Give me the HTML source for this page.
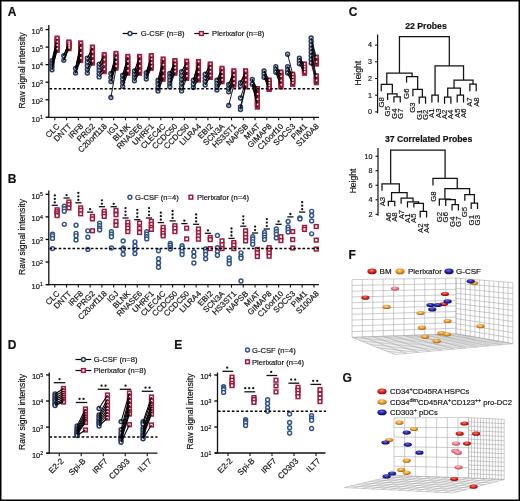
<!DOCTYPE html>
<html><head><meta charset="utf-8"><style>
html,body{margin:0;padding:0;background:#fff;width:520px;height:501px;overflow:hidden}
svg text{font-family:"Liberation Sans", sans-serif;stroke:#111;stroke-width:0.18px;paint-order:stroke}
</style></head><body>
<svg width="520" height="501" viewBox="0 0 520 501" style="display:block;will-change:transform;filter:blur(0.3px)" font-family='"Liberation Sans", sans-serif'><defs><radialGradient id="g_red" cx="0.45" cy="0.35" r="0.7"><stop offset="0" stop-color="#ff7a6a"/><stop offset="0.55" stop-color="#cc1c16"/><stop offset="1" stop-color="#7a0806"/></radialGradient><radialGradient id="g_org" cx="0.45" cy="0.35" r="0.7"><stop offset="0" stop-color="#ffd88a"/><stop offset="0.55" stop-color="#e49422"/><stop offset="1" stop-color="#8a5008"/></radialGradient><radialGradient id="g_blu" cx="0.45" cy="0.35" r="0.7"><stop offset="0" stop-color="#6a6ad8"/><stop offset="0.55" stop-color="#1e1e9a"/><stop offset="1" stop-color="#08084a"/></radialGradient><radialGradient id="g_pnk" cx="0.45" cy="0.35" r="0.7"><stop offset="0" stop-color="#ffc0c8"/><stop offset="0.55" stop-color="#e07080"/><stop offset="1" stop-color="#a03848"/></radialGradient></defs><rect x="0" y="0" width="520" height="501" fill="#fff"/><text x="7.70" y="16.20" font-size="12" text-anchor="start" font-weight="bold" fill="#111">A</text><text x="24.50" y="70.50" font-size="8.6" text-anchor="middle" fill="#111" transform="rotate(-90 24.50 70.50)">Raw signal intensity</text><circle cx="52.00" cy="60.67" r="1.95" fill="#cfd7e5" stroke="#263a60" stroke-width="1.45"/><circle cx="52.00" cy="63.72" r="1.95" fill="#cfd7e5" stroke="#263a60" stroke-width="1.45"/><circle cx="52.00" cy="66.77" r="1.95" fill="#cfd7e5" stroke="#263a60" stroke-width="1.45"/><circle cx="52.00" cy="69.83" r="1.95" fill="#cfd7e5" stroke="#263a60" stroke-width="1.45"/><rect x="55.25" y="36.25" width="3.70" height="3.70" fill="#a01a3c" stroke="#a01a3c" stroke-width="1.5"/><rect x="55.25" y="38.01" width="3.70" height="3.70" fill="#a01a3c" stroke="#a01a3c" stroke-width="1.5"/><rect x="55.25" y="39.76" width="3.70" height="3.70" fill="#a01a3c" stroke="#a01a3c" stroke-width="1.5"/><rect x="55.25" y="41.52" width="3.70" height="3.70" fill="#a01a3c" stroke="#a01a3c" stroke-width="1.5"/><rect x="55.25" y="43.28" width="3.70" height="3.70" fill="#a01a3c" stroke="#a01a3c" stroke-width="1.5"/><rect x="55.25" y="45.04" width="3.70" height="3.70" fill="#a01a3c" stroke="#a01a3c" stroke-width="1.5"/><rect x="55.25" y="46.79" width="3.70" height="3.70" fill="#a01a3c" stroke="#a01a3c" stroke-width="1.5"/><rect x="55.25" y="48.55" width="3.70" height="3.70" fill="#a01a3c" stroke="#a01a3c" stroke-width="1.5"/><line x1="52.00" y1="60.67" x2="57.10" y2="38.10" stroke="#000" stroke-width="0.9"/><line x1="52.00" y1="60.67" x2="57.10" y2="39.86" stroke="#000" stroke-width="0.9"/><line x1="52.00" y1="63.72" x2="57.10" y2="41.61" stroke="#000" stroke-width="0.9"/><line x1="52.00" y1="63.72" x2="57.10" y2="43.37" stroke="#000" stroke-width="0.9"/><line x1="52.00" y1="66.77" x2="57.10" y2="45.13" stroke="#000" stroke-width="0.9"/><line x1="52.00" y1="66.77" x2="57.10" y2="46.89" stroke="#000" stroke-width="0.9"/><line x1="52.00" y1="69.83" x2="57.10" y2="48.64" stroke="#000" stroke-width="0.9"/><line x1="52.00" y1="69.83" x2="57.10" y2="50.40" stroke="#000" stroke-width="0.9"/><rect x="56.50" y="37.20" width="1.6" height="1.8" fill="#f6e2e6"/><rect x="56.50" y="40.71" width="1.6" height="1.8" fill="#f6e2e6"/><rect x="56.50" y="44.23" width="1.6" height="1.8" fill="#f6e2e6"/><rect x="56.50" y="47.74" width="1.6" height="1.8" fill="#f6e2e6"/><circle cx="63.78" cy="55.67" r="1.95" fill="#cfd7e5" stroke="#263a60" stroke-width="1.45"/><circle cx="63.78" cy="60.32" r="1.95" fill="#cfd7e5" stroke="#263a60" stroke-width="1.45"/><rect x="67.03" y="40.15" width="3.70" height="3.70" fill="#a01a3c" stroke="#a01a3c" stroke-width="1.5"/><rect x="67.03" y="41.11" width="3.70" height="3.70" fill="#a01a3c" stroke="#a01a3c" stroke-width="1.5"/><rect x="67.03" y="42.06" width="3.70" height="3.70" fill="#a01a3c" stroke="#a01a3c" stroke-width="1.5"/><rect x="67.03" y="43.02" width="3.70" height="3.70" fill="#a01a3c" stroke="#a01a3c" stroke-width="1.5"/><rect x="67.03" y="43.98" width="3.70" height="3.70" fill="#a01a3c" stroke="#a01a3c" stroke-width="1.5"/><rect x="67.03" y="44.94" width="3.70" height="3.70" fill="#a01a3c" stroke="#a01a3c" stroke-width="1.5"/><rect x="67.03" y="45.89" width="3.70" height="3.70" fill="#a01a3c" stroke="#a01a3c" stroke-width="1.5"/><rect x="67.03" y="46.85" width="3.70" height="3.70" fill="#a01a3c" stroke="#a01a3c" stroke-width="1.5"/><line x1="63.78" y1="55.67" x2="68.88" y2="42.00" stroke="#000" stroke-width="0.9"/><line x1="63.78" y1="55.67" x2="68.88" y2="42.96" stroke="#000" stroke-width="0.9"/><line x1="63.78" y1="55.67" x2="68.88" y2="43.91" stroke="#000" stroke-width="0.9"/><line x1="63.78" y1="55.67" x2="68.88" y2="44.87" stroke="#000" stroke-width="0.9"/><line x1="63.78" y1="60.32" x2="68.88" y2="45.83" stroke="#000" stroke-width="0.9"/><line x1="63.78" y1="60.32" x2="68.88" y2="46.79" stroke="#000" stroke-width="0.9"/><line x1="63.78" y1="60.32" x2="68.88" y2="47.74" stroke="#000" stroke-width="0.9"/><line x1="63.78" y1="60.32" x2="68.88" y2="48.70" stroke="#000" stroke-width="0.9"/><rect x="68.28" y="41.10" width="1.6" height="1.8" fill="#f6e2e6"/><rect x="68.28" y="43.01" width="1.6" height="1.8" fill="#f6e2e6"/><rect x="68.28" y="44.93" width="1.6" height="1.8" fill="#f6e2e6"/><rect x="68.28" y="46.84" width="1.6" height="1.8" fill="#f6e2e6"/><circle cx="75.56" cy="68.38" r="1.95" fill="#cfd7e5" stroke="#263a60" stroke-width="1.45"/><circle cx="75.56" cy="73.12" r="1.95" fill="#cfd7e5" stroke="#263a60" stroke-width="1.45"/><rect x="78.81" y="41.05" width="3.70" height="3.70" fill="#a01a3c" stroke="#a01a3c" stroke-width="1.5"/><rect x="78.81" y="43.56" width="3.70" height="3.70" fill="#a01a3c" stroke="#a01a3c" stroke-width="1.5"/><rect x="78.81" y="46.08" width="3.70" height="3.70" fill="#a01a3c" stroke="#a01a3c" stroke-width="1.5"/><rect x="78.81" y="48.59" width="3.70" height="3.70" fill="#a01a3c" stroke="#a01a3c" stroke-width="1.5"/><rect x="78.81" y="51.11" width="3.70" height="3.70" fill="#a01a3c" stroke="#a01a3c" stroke-width="1.5"/><rect x="78.81" y="53.62" width="3.70" height="3.70" fill="#a01a3c" stroke="#a01a3c" stroke-width="1.5"/><rect x="78.81" y="56.14" width="3.70" height="3.70" fill="#a01a3c" stroke="#a01a3c" stroke-width="1.5"/><rect x="78.81" y="58.65" width="3.70" height="3.70" fill="#a01a3c" stroke="#a01a3c" stroke-width="1.5"/><line x1="75.56" y1="68.38" x2="80.66" y2="42.90" stroke="#000" stroke-width="0.9"/><line x1="75.56" y1="68.38" x2="80.66" y2="45.41" stroke="#000" stroke-width="0.9"/><line x1="75.56" y1="68.38" x2="80.66" y2="47.93" stroke="#000" stroke-width="0.9"/><line x1="75.56" y1="68.38" x2="80.66" y2="50.44" stroke="#000" stroke-width="0.9"/><line x1="75.56" y1="73.12" x2="80.66" y2="52.96" stroke="#000" stroke-width="0.9"/><line x1="75.56" y1="73.12" x2="80.66" y2="55.47" stroke="#000" stroke-width="0.9"/><line x1="75.56" y1="73.12" x2="80.66" y2="57.99" stroke="#000" stroke-width="0.9"/><line x1="75.56" y1="73.12" x2="80.66" y2="60.50" stroke="#000" stroke-width="0.9"/><rect x="80.06" y="42.00" width="1.6" height="1.8" fill="#f6e2e6"/><rect x="80.06" y="47.03" width="1.6" height="1.8" fill="#f6e2e6"/><rect x="80.06" y="52.06" width="1.6" height="1.8" fill="#f6e2e6"/><rect x="80.06" y="57.09" width="1.6" height="1.8" fill="#f6e2e6"/><circle cx="87.34" cy="58.17" r="1.95" fill="#cfd7e5" stroke="#263a60" stroke-width="1.45"/><circle cx="87.34" cy="61.91" r="1.95" fill="#cfd7e5" stroke="#263a60" stroke-width="1.45"/><circle cx="87.34" cy="65.65" r="1.95" fill="#cfd7e5" stroke="#263a60" stroke-width="1.45"/><circle cx="87.34" cy="69.39" r="1.95" fill="#cfd7e5" stroke="#263a60" stroke-width="1.45"/><circle cx="87.34" cy="73.12" r="1.95" fill="#cfd7e5" stroke="#263a60" stroke-width="1.45"/><rect x="90.59" y="45.25" width="3.70" height="3.70" fill="#a01a3c" stroke="#a01a3c" stroke-width="1.5"/><rect x="90.59" y="47.54" width="3.70" height="3.70" fill="#a01a3c" stroke="#a01a3c" stroke-width="1.5"/><rect x="90.59" y="49.82" width="3.70" height="3.70" fill="#a01a3c" stroke="#a01a3c" stroke-width="1.5"/><rect x="90.59" y="52.11" width="3.70" height="3.70" fill="#a01a3c" stroke="#a01a3c" stroke-width="1.5"/><rect x="90.59" y="54.39" width="3.70" height="3.70" fill="#a01a3c" stroke="#a01a3c" stroke-width="1.5"/><rect x="90.59" y="56.68" width="3.70" height="3.70" fill="#a01a3c" stroke="#a01a3c" stroke-width="1.5"/><rect x="90.59" y="58.96" width="3.70" height="3.70" fill="#a01a3c" stroke="#a01a3c" stroke-width="1.5"/><rect x="90.59" y="61.25" width="3.70" height="3.70" fill="#a01a3c" stroke="#a01a3c" stroke-width="1.5"/><line x1="87.34" y1="58.17" x2="92.44" y2="47.10" stroke="#000" stroke-width="0.9"/><line x1="87.34" y1="58.17" x2="92.44" y2="49.39" stroke="#000" stroke-width="0.9"/><line x1="87.34" y1="61.91" x2="92.44" y2="51.67" stroke="#000" stroke-width="0.9"/><line x1="87.34" y1="61.91" x2="92.44" y2="53.96" stroke="#000" stroke-width="0.9"/><line x1="87.34" y1="65.65" x2="92.44" y2="56.24" stroke="#000" stroke-width="0.9"/><line x1="87.34" y1="69.39" x2="92.44" y2="58.53" stroke="#000" stroke-width="0.9"/><line x1="87.34" y1="69.39" x2="92.44" y2="60.81" stroke="#000" stroke-width="0.9"/><line x1="87.34" y1="73.12" x2="92.44" y2="63.10" stroke="#000" stroke-width="0.9"/><rect x="91.84" y="46.20" width="1.6" height="1.8" fill="#f6e2e6"/><rect x="91.84" y="50.77" width="1.6" height="1.8" fill="#f6e2e6"/><rect x="91.84" y="55.34" width="1.6" height="1.8" fill="#f6e2e6"/><rect x="91.84" y="59.91" width="1.6" height="1.8" fill="#f6e2e6"/><circle cx="99.12" cy="64.08" r="1.95" fill="#cfd7e5" stroke="#263a60" stroke-width="1.45"/><circle cx="99.12" cy="67.29" r="1.95" fill="#cfd7e5" stroke="#263a60" stroke-width="1.45"/><circle cx="99.12" cy="70.50" r="1.95" fill="#cfd7e5" stroke="#263a60" stroke-width="1.45"/><circle cx="99.12" cy="73.71" r="1.95" fill="#cfd7e5" stroke="#263a60" stroke-width="1.45"/><circle cx="99.12" cy="76.92" r="1.95" fill="#cfd7e5" stroke="#263a60" stroke-width="1.45"/><rect x="102.37" y="52.85" width="3.70" height="3.70" fill="#a01a3c" stroke="#a01a3c" stroke-width="1.5"/><rect x="102.37" y="55.26" width="3.70" height="3.70" fill="#a01a3c" stroke="#a01a3c" stroke-width="1.5"/><rect x="102.37" y="57.68" width="3.70" height="3.70" fill="#a01a3c" stroke="#a01a3c" stroke-width="1.5"/><rect x="102.37" y="60.09" width="3.70" height="3.70" fill="#a01a3c" stroke="#a01a3c" stroke-width="1.5"/><rect x="102.37" y="62.51" width="3.70" height="3.70" fill="#a01a3c" stroke="#a01a3c" stroke-width="1.5"/><rect x="102.37" y="64.92" width="3.70" height="3.70" fill="#a01a3c" stroke="#a01a3c" stroke-width="1.5"/><rect x="102.37" y="67.34" width="3.70" height="3.70" fill="#a01a3c" stroke="#a01a3c" stroke-width="1.5"/><rect x="102.37" y="69.75" width="3.70" height="3.70" fill="#a01a3c" stroke="#a01a3c" stroke-width="1.5"/><line x1="99.12" y1="64.08" x2="104.22" y2="54.70" stroke="#000" stroke-width="0.9"/><line x1="99.12" y1="64.08" x2="104.22" y2="57.11" stroke="#000" stroke-width="0.9"/><line x1="99.12" y1="67.29" x2="104.22" y2="59.53" stroke="#000" stroke-width="0.9"/><line x1="99.12" y1="67.29" x2="104.22" y2="61.94" stroke="#000" stroke-width="0.9"/><line x1="99.12" y1="70.50" x2="104.22" y2="64.36" stroke="#000" stroke-width="0.9"/><line x1="99.12" y1="73.71" x2="104.22" y2="66.77" stroke="#000" stroke-width="0.9"/><line x1="99.12" y1="73.71" x2="104.22" y2="69.19" stroke="#000" stroke-width="0.9"/><line x1="99.12" y1="76.92" x2="104.22" y2="71.60" stroke="#000" stroke-width="0.9"/><rect x="103.62" y="53.80" width="1.6" height="1.8" fill="#f6e2e6"/><rect x="103.62" y="58.63" width="1.6" height="1.8" fill="#f6e2e6"/><rect x="103.62" y="63.46" width="1.6" height="1.8" fill="#f6e2e6"/><rect x="103.62" y="68.29" width="1.6" height="1.8" fill="#f6e2e6"/><circle cx="110.90" cy="73.47" r="1.95" fill="#cfd7e5" stroke="#263a60" stroke-width="1.45"/><circle cx="110.90" cy="77.55" r="1.95" fill="#cfd7e5" stroke="#263a60" stroke-width="1.45"/><circle cx="110.90" cy="81.62" r="1.95" fill="#cfd7e5" stroke="#263a60" stroke-width="1.45"/><circle cx="110.90" cy="97.50" r="1.95" fill="#cfd7e5" stroke="#263a60" stroke-width="1.45"/><rect x="114.15" y="51.55" width="3.70" height="3.70" fill="#a01a3c" stroke="#a01a3c" stroke-width="1.5"/><rect x="114.15" y="53.66" width="3.70" height="3.70" fill="#a01a3c" stroke="#a01a3c" stroke-width="1.5"/><rect x="114.15" y="55.78" width="3.70" height="3.70" fill="#a01a3c" stroke="#a01a3c" stroke-width="1.5"/><rect x="114.15" y="57.89" width="3.70" height="3.70" fill="#a01a3c" stroke="#a01a3c" stroke-width="1.5"/><rect x="114.15" y="60.01" width="3.70" height="3.70" fill="#a01a3c" stroke="#a01a3c" stroke-width="1.5"/><rect x="114.15" y="62.12" width="3.70" height="3.70" fill="#a01a3c" stroke="#a01a3c" stroke-width="1.5"/><rect x="114.15" y="64.24" width="3.70" height="3.70" fill="#a01a3c" stroke="#a01a3c" stroke-width="1.5"/><rect x="114.15" y="66.35" width="3.70" height="3.70" fill="#a01a3c" stroke="#a01a3c" stroke-width="1.5"/><line x1="110.90" y1="73.47" x2="116.00" y2="53.40" stroke="#000" stroke-width="0.9"/><line x1="110.90" y1="73.47" x2="116.00" y2="55.51" stroke="#000" stroke-width="0.9"/><line x1="110.90" y1="73.47" x2="116.00" y2="57.63" stroke="#000" stroke-width="0.9"/><line x1="110.90" y1="77.55" x2="116.00" y2="59.74" stroke="#000" stroke-width="0.9"/><line x1="110.90" y1="77.55" x2="116.00" y2="61.86" stroke="#000" stroke-width="0.9"/><line x1="110.90" y1="81.62" x2="116.00" y2="63.97" stroke="#000" stroke-width="0.9"/><line x1="110.90" y1="81.62" x2="116.00" y2="66.09" stroke="#000" stroke-width="0.9"/><line x1="110.90" y1="97.50" x2="116.00" y2="68.20" stroke="#000" stroke-width="0.9"/><rect x="115.40" y="52.50" width="1.6" height="1.8" fill="#f6e2e6"/><rect x="115.40" y="56.73" width="1.6" height="1.8" fill="#f6e2e6"/><rect x="115.40" y="60.96" width="1.6" height="1.8" fill="#f6e2e6"/><rect x="115.40" y="65.19" width="1.6" height="1.8" fill="#f6e2e6"/><circle cx="122.68" cy="75.17" r="1.95" fill="#cfd7e5" stroke="#263a60" stroke-width="1.45"/><circle cx="122.68" cy="78.89" r="1.95" fill="#cfd7e5" stroke="#263a60" stroke-width="1.45"/><circle cx="122.68" cy="82.61" r="1.95" fill="#cfd7e5" stroke="#263a60" stroke-width="1.45"/><circle cx="122.68" cy="86.33" r="1.95" fill="#cfd7e5" stroke="#263a60" stroke-width="1.45"/><rect x="125.93" y="54.55" width="3.70" height="3.70" fill="#a01a3c" stroke="#a01a3c" stroke-width="1.5"/><rect x="125.93" y="56.95" width="3.70" height="3.70" fill="#a01a3c" stroke="#a01a3c" stroke-width="1.5"/><rect x="125.93" y="59.35" width="3.70" height="3.70" fill="#a01a3c" stroke="#a01a3c" stroke-width="1.5"/><rect x="125.93" y="61.75" width="3.70" height="3.70" fill="#a01a3c" stroke="#a01a3c" stroke-width="1.5"/><rect x="125.93" y="64.15" width="3.70" height="3.70" fill="#a01a3c" stroke="#a01a3c" stroke-width="1.5"/><rect x="125.93" y="66.55" width="3.70" height="3.70" fill="#a01a3c" stroke="#a01a3c" stroke-width="1.5"/><rect x="125.93" y="68.95" width="3.70" height="3.70" fill="#a01a3c" stroke="#a01a3c" stroke-width="1.5"/><rect x="125.93" y="71.35" width="3.70" height="3.70" fill="#a01a3c" stroke="#a01a3c" stroke-width="1.5"/><line x1="122.68" y1="75.17" x2="127.78" y2="56.40" stroke="#000" stroke-width="0.9"/><line x1="122.68" y1="75.17" x2="127.78" y2="58.80" stroke="#000" stroke-width="0.9"/><line x1="122.68" y1="78.89" x2="127.78" y2="61.20" stroke="#000" stroke-width="0.9"/><line x1="122.68" y1="78.89" x2="127.78" y2="63.60" stroke="#000" stroke-width="0.9"/><line x1="122.68" y1="82.61" x2="127.78" y2="66.00" stroke="#000" stroke-width="0.9"/><line x1="122.68" y1="82.61" x2="127.78" y2="68.40" stroke="#000" stroke-width="0.9"/><line x1="122.68" y1="86.33" x2="127.78" y2="70.80" stroke="#000" stroke-width="0.9"/><line x1="122.68" y1="86.33" x2="127.78" y2="73.20" stroke="#000" stroke-width="0.9"/><rect x="127.18" y="55.50" width="1.6" height="1.8" fill="#f6e2e6"/><rect x="127.18" y="60.30" width="1.6" height="1.8" fill="#f6e2e6"/><rect x="127.18" y="65.10" width="1.6" height="1.8" fill="#f6e2e6"/><rect x="127.18" y="69.90" width="1.6" height="1.8" fill="#f6e2e6"/><circle cx="134.46" cy="70.88" r="1.95" fill="#cfd7e5" stroke="#263a60" stroke-width="1.45"/><circle cx="134.46" cy="74.19" r="1.95" fill="#cfd7e5" stroke="#263a60" stroke-width="1.45"/><circle cx="134.46" cy="77.51" r="1.95" fill="#cfd7e5" stroke="#263a60" stroke-width="1.45"/><circle cx="134.46" cy="80.83" r="1.95" fill="#cfd7e5" stroke="#263a60" stroke-width="1.45"/><rect x="137.71" y="54.55" width="3.70" height="3.70" fill="#a01a3c" stroke="#a01a3c" stroke-width="1.5"/><rect x="137.71" y="56.95" width="3.70" height="3.70" fill="#a01a3c" stroke="#a01a3c" stroke-width="1.5"/><rect x="137.71" y="59.35" width="3.70" height="3.70" fill="#a01a3c" stroke="#a01a3c" stroke-width="1.5"/><rect x="137.71" y="61.75" width="3.70" height="3.70" fill="#a01a3c" stroke="#a01a3c" stroke-width="1.5"/><rect x="137.71" y="64.15" width="3.70" height="3.70" fill="#a01a3c" stroke="#a01a3c" stroke-width="1.5"/><rect x="137.71" y="66.55" width="3.70" height="3.70" fill="#a01a3c" stroke="#a01a3c" stroke-width="1.5"/><rect x="137.71" y="68.95" width="3.70" height="3.70" fill="#a01a3c" stroke="#a01a3c" stroke-width="1.5"/><rect x="137.71" y="71.35" width="3.70" height="3.70" fill="#a01a3c" stroke="#a01a3c" stroke-width="1.5"/><line x1="134.46" y1="70.88" x2="139.56" y2="56.40" stroke="#000" stroke-width="0.9"/><line x1="134.46" y1="70.88" x2="139.56" y2="58.80" stroke="#000" stroke-width="0.9"/><line x1="134.46" y1="74.19" x2="139.56" y2="61.20" stroke="#000" stroke-width="0.9"/><line x1="134.46" y1="74.19" x2="139.56" y2="63.60" stroke="#000" stroke-width="0.9"/><line x1="134.46" y1="77.51" x2="139.56" y2="66.00" stroke="#000" stroke-width="0.9"/><line x1="134.46" y1="77.51" x2="139.56" y2="68.40" stroke="#000" stroke-width="0.9"/><line x1="134.46" y1="80.83" x2="139.56" y2="70.80" stroke="#000" stroke-width="0.9"/><line x1="134.46" y1="80.83" x2="139.56" y2="73.20" stroke="#000" stroke-width="0.9"/><rect x="138.96" y="55.50" width="1.6" height="1.8" fill="#f6e2e6"/><rect x="138.96" y="60.30" width="1.6" height="1.8" fill="#f6e2e6"/><rect x="138.96" y="65.10" width="1.6" height="1.8" fill="#f6e2e6"/><rect x="138.96" y="69.90" width="1.6" height="1.8" fill="#f6e2e6"/><circle cx="146.24" cy="72.67" r="1.95" fill="#cfd7e5" stroke="#263a60" stroke-width="1.45"/><circle cx="146.24" cy="75.90" r="1.95" fill="#cfd7e5" stroke="#263a60" stroke-width="1.45"/><circle cx="146.24" cy="79.12" r="1.95" fill="#cfd7e5" stroke="#263a60" stroke-width="1.45"/><rect x="149.49" y="53.75" width="3.70" height="3.70" fill="#a01a3c" stroke="#a01a3c" stroke-width="1.5"/><rect x="149.49" y="55.55" width="3.70" height="3.70" fill="#a01a3c" stroke="#a01a3c" stroke-width="1.5"/><rect x="149.49" y="57.35" width="3.70" height="3.70" fill="#a01a3c" stroke="#a01a3c" stroke-width="1.5"/><rect x="149.49" y="59.15" width="3.70" height="3.70" fill="#a01a3c" stroke="#a01a3c" stroke-width="1.5"/><rect x="149.49" y="60.95" width="3.70" height="3.70" fill="#a01a3c" stroke="#a01a3c" stroke-width="1.5"/><rect x="149.49" y="62.75" width="3.70" height="3.70" fill="#a01a3c" stroke="#a01a3c" stroke-width="1.5"/><rect x="149.49" y="64.55" width="3.70" height="3.70" fill="#a01a3c" stroke="#a01a3c" stroke-width="1.5"/><rect x="149.49" y="66.35" width="3.70" height="3.70" fill="#a01a3c" stroke="#a01a3c" stroke-width="1.5"/><line x1="146.24" y1="72.67" x2="151.34" y2="55.60" stroke="#000" stroke-width="0.9"/><line x1="146.24" y1="72.67" x2="151.34" y2="57.40" stroke="#000" stroke-width="0.9"/><line x1="146.24" y1="72.67" x2="151.34" y2="59.20" stroke="#000" stroke-width="0.9"/><line x1="146.24" y1="75.90" x2="151.34" y2="61.00" stroke="#000" stroke-width="0.9"/><line x1="146.24" y1="75.90" x2="151.34" y2="62.80" stroke="#000" stroke-width="0.9"/><line x1="146.24" y1="75.90" x2="151.34" y2="64.60" stroke="#000" stroke-width="0.9"/><line x1="146.24" y1="79.12" x2="151.34" y2="66.40" stroke="#000" stroke-width="0.9"/><line x1="146.24" y1="79.12" x2="151.34" y2="68.20" stroke="#000" stroke-width="0.9"/><rect x="150.74" y="54.70" width="1.6" height="1.8" fill="#f6e2e6"/><rect x="150.74" y="58.30" width="1.6" height="1.8" fill="#f6e2e6"/><rect x="150.74" y="61.90" width="1.6" height="1.8" fill="#f6e2e6"/><rect x="150.74" y="65.50" width="1.6" height="1.8" fill="#f6e2e6"/><circle cx="158.02" cy="80.17" r="1.95" fill="#cfd7e5" stroke="#263a60" stroke-width="1.45"/><circle cx="158.02" cy="83.76" r="1.95" fill="#cfd7e5" stroke="#263a60" stroke-width="1.45"/><circle cx="158.02" cy="87.34" r="1.95" fill="#cfd7e5" stroke="#263a60" stroke-width="1.45"/><circle cx="158.02" cy="90.92" r="1.95" fill="#cfd7e5" stroke="#263a60" stroke-width="1.45"/><rect x="161.27" y="57.15" width="3.70" height="3.70" fill="#a01a3c" stroke="#a01a3c" stroke-width="1.5"/><rect x="161.27" y="60.04" width="3.70" height="3.70" fill="#a01a3c" stroke="#a01a3c" stroke-width="1.5"/><rect x="161.27" y="62.92" width="3.70" height="3.70" fill="#a01a3c" stroke="#a01a3c" stroke-width="1.5"/><rect x="161.27" y="65.81" width="3.70" height="3.70" fill="#a01a3c" stroke="#a01a3c" stroke-width="1.5"/><rect x="161.27" y="68.69" width="3.70" height="3.70" fill="#a01a3c" stroke="#a01a3c" stroke-width="1.5"/><rect x="161.27" y="71.58" width="3.70" height="3.70" fill="#a01a3c" stroke="#a01a3c" stroke-width="1.5"/><rect x="161.27" y="74.46" width="3.70" height="3.70" fill="#a01a3c" stroke="#a01a3c" stroke-width="1.5"/><rect x="161.27" y="77.35" width="3.70" height="3.70" fill="#a01a3c" stroke="#a01a3c" stroke-width="1.5"/><line x1="158.02" y1="80.17" x2="163.12" y2="59.00" stroke="#000" stroke-width="0.9"/><line x1="158.02" y1="80.17" x2="163.12" y2="61.89" stroke="#000" stroke-width="0.9"/><line x1="158.02" y1="83.76" x2="163.12" y2="64.77" stroke="#000" stroke-width="0.9"/><line x1="158.02" y1="83.76" x2="163.12" y2="67.66" stroke="#000" stroke-width="0.9"/><line x1="158.02" y1="87.34" x2="163.12" y2="70.54" stroke="#000" stroke-width="0.9"/><line x1="158.02" y1="87.34" x2="163.12" y2="73.43" stroke="#000" stroke-width="0.9"/><line x1="158.02" y1="90.92" x2="163.12" y2="76.31" stroke="#000" stroke-width="0.9"/><line x1="158.02" y1="90.92" x2="163.12" y2="79.20" stroke="#000" stroke-width="0.9"/><rect x="162.52" y="58.10" width="1.6" height="1.8" fill="#f6e2e6"/><rect x="162.52" y="63.87" width="1.6" height="1.8" fill="#f6e2e6"/><rect x="162.52" y="69.64" width="1.6" height="1.8" fill="#f6e2e6"/><rect x="162.52" y="75.41" width="1.6" height="1.8" fill="#f6e2e6"/><circle cx="169.80" cy="73.47" r="1.95" fill="#cfd7e5" stroke="#263a60" stroke-width="1.45"/><circle cx="169.80" cy="76.79" r="1.95" fill="#cfd7e5" stroke="#263a60" stroke-width="1.45"/><circle cx="169.80" cy="80.10" r="1.95" fill="#cfd7e5" stroke="#263a60" stroke-width="1.45"/><circle cx="169.80" cy="83.41" r="1.95" fill="#cfd7e5" stroke="#263a60" stroke-width="1.45"/><circle cx="169.80" cy="86.73" r="1.95" fill="#cfd7e5" stroke="#263a60" stroke-width="1.45"/><rect x="173.05" y="58.75" width="3.70" height="3.70" fill="#a01a3c" stroke="#a01a3c" stroke-width="1.5"/><rect x="173.05" y="60.55" width="3.70" height="3.70" fill="#a01a3c" stroke="#a01a3c" stroke-width="1.5"/><rect x="173.05" y="62.35" width="3.70" height="3.70" fill="#a01a3c" stroke="#a01a3c" stroke-width="1.5"/><rect x="173.05" y="64.15" width="3.70" height="3.70" fill="#a01a3c" stroke="#a01a3c" stroke-width="1.5"/><rect x="173.05" y="65.95" width="3.70" height="3.70" fill="#a01a3c" stroke="#a01a3c" stroke-width="1.5"/><rect x="173.05" y="67.75" width="3.70" height="3.70" fill="#a01a3c" stroke="#a01a3c" stroke-width="1.5"/><rect x="173.05" y="69.55" width="3.70" height="3.70" fill="#a01a3c" stroke="#a01a3c" stroke-width="1.5"/><rect x="173.05" y="71.35" width="3.70" height="3.70" fill="#a01a3c" stroke="#a01a3c" stroke-width="1.5"/><line x1="169.80" y1="73.47" x2="174.90" y2="60.60" stroke="#000" stroke-width="0.9"/><line x1="169.80" y1="73.47" x2="174.90" y2="62.40" stroke="#000" stroke-width="0.9"/><line x1="169.80" y1="76.79" x2="174.90" y2="64.20" stroke="#000" stroke-width="0.9"/><line x1="169.80" y1="76.79" x2="174.90" y2="66.00" stroke="#000" stroke-width="0.9"/><line x1="169.80" y1="80.10" x2="174.90" y2="67.80" stroke="#000" stroke-width="0.9"/><line x1="169.80" y1="83.41" x2="174.90" y2="69.60" stroke="#000" stroke-width="0.9"/><line x1="169.80" y1="83.41" x2="174.90" y2="71.40" stroke="#000" stroke-width="0.9"/><line x1="169.80" y1="86.73" x2="174.90" y2="73.20" stroke="#000" stroke-width="0.9"/><rect x="174.30" y="59.70" width="1.6" height="1.8" fill="#f6e2e6"/><rect x="174.30" y="63.30" width="1.6" height="1.8" fill="#f6e2e6"/><rect x="174.30" y="66.90" width="1.6" height="1.8" fill="#f6e2e6"/><rect x="174.30" y="70.50" width="1.6" height="1.8" fill="#f6e2e6"/><circle cx="181.58" cy="71.67" r="1.95" fill="#cfd7e5" stroke="#263a60" stroke-width="1.45"/><circle cx="181.58" cy="75.52" r="1.95" fill="#cfd7e5" stroke="#263a60" stroke-width="1.45"/><circle cx="181.58" cy="79.38" r="1.95" fill="#cfd7e5" stroke="#263a60" stroke-width="1.45"/><circle cx="181.58" cy="83.22" r="1.95" fill="#cfd7e5" stroke="#263a60" stroke-width="1.45"/><circle cx="181.58" cy="87.07" r="1.95" fill="#cfd7e5" stroke="#263a60" stroke-width="1.45"/><circle cx="181.58" cy="90.92" r="1.95" fill="#cfd7e5" stroke="#263a60" stroke-width="1.45"/><rect x="184.83" y="59.35" width="3.70" height="3.70" fill="#a01a3c" stroke="#a01a3c" stroke-width="1.5"/><rect x="184.83" y="61.81" width="3.70" height="3.70" fill="#a01a3c" stroke="#a01a3c" stroke-width="1.5"/><rect x="184.83" y="64.26" width="3.70" height="3.70" fill="#a01a3c" stroke="#a01a3c" stroke-width="1.5"/><rect x="184.83" y="66.72" width="3.70" height="3.70" fill="#a01a3c" stroke="#a01a3c" stroke-width="1.5"/><rect x="184.83" y="69.18" width="3.70" height="3.70" fill="#a01a3c" stroke="#a01a3c" stroke-width="1.5"/><rect x="184.83" y="71.64" width="3.70" height="3.70" fill="#a01a3c" stroke="#a01a3c" stroke-width="1.5"/><rect x="184.83" y="74.09" width="3.70" height="3.70" fill="#a01a3c" stroke="#a01a3c" stroke-width="1.5"/><rect x="184.83" y="76.55" width="3.70" height="3.70" fill="#a01a3c" stroke="#a01a3c" stroke-width="1.5"/><line x1="181.58" y1="71.67" x2="186.68" y2="61.20" stroke="#000" stroke-width="0.9"/><line x1="181.58" y1="71.67" x2="186.68" y2="63.66" stroke="#000" stroke-width="0.9"/><line x1="181.58" y1="75.52" x2="186.68" y2="66.11" stroke="#000" stroke-width="0.9"/><line x1="181.58" y1="79.38" x2="186.68" y2="68.57" stroke="#000" stroke-width="0.9"/><line x1="181.58" y1="83.22" x2="186.68" y2="71.03" stroke="#000" stroke-width="0.9"/><line x1="181.58" y1="83.22" x2="186.68" y2="73.49" stroke="#000" stroke-width="0.9"/><line x1="181.58" y1="87.07" x2="186.68" y2="75.94" stroke="#000" stroke-width="0.9"/><line x1="181.58" y1="90.92" x2="186.68" y2="78.40" stroke="#000" stroke-width="0.9"/><rect x="186.08" y="60.30" width="1.6" height="1.8" fill="#f6e2e6"/><rect x="186.08" y="65.21" width="1.6" height="1.8" fill="#f6e2e6"/><rect x="186.08" y="70.13" width="1.6" height="1.8" fill="#f6e2e6"/><rect x="186.08" y="75.04" width="1.6" height="1.8" fill="#f6e2e6"/><circle cx="193.36" cy="80.17" r="1.95" fill="#cfd7e5" stroke="#263a60" stroke-width="1.45"/><circle cx="193.36" cy="83.90" r="1.95" fill="#cfd7e5" stroke="#263a60" stroke-width="1.45"/><circle cx="193.36" cy="87.62" r="1.95" fill="#cfd7e5" stroke="#263a60" stroke-width="1.45"/><rect x="196.61" y="59.65" width="3.70" height="3.70" fill="#a01a3c" stroke="#a01a3c" stroke-width="1.5"/><rect x="196.61" y="62.29" width="3.70" height="3.70" fill="#a01a3c" stroke="#a01a3c" stroke-width="1.5"/><rect x="196.61" y="64.94" width="3.70" height="3.70" fill="#a01a3c" stroke="#a01a3c" stroke-width="1.5"/><rect x="196.61" y="67.58" width="3.70" height="3.70" fill="#a01a3c" stroke="#a01a3c" stroke-width="1.5"/><rect x="196.61" y="70.22" width="3.70" height="3.70" fill="#a01a3c" stroke="#a01a3c" stroke-width="1.5"/><rect x="196.61" y="72.86" width="3.70" height="3.70" fill="#a01a3c" stroke="#a01a3c" stroke-width="1.5"/><rect x="196.61" y="75.51" width="3.70" height="3.70" fill="#a01a3c" stroke="#a01a3c" stroke-width="1.5"/><rect x="196.61" y="78.15" width="3.70" height="3.70" fill="#a01a3c" stroke="#a01a3c" stroke-width="1.5"/><line x1="193.36" y1="80.17" x2="198.46" y2="61.50" stroke="#000" stroke-width="0.9"/><line x1="193.36" y1="80.17" x2="198.46" y2="64.14" stroke="#000" stroke-width="0.9"/><line x1="193.36" y1="80.17" x2="198.46" y2="66.79" stroke="#000" stroke-width="0.9"/><line x1="193.36" y1="83.90" x2="198.46" y2="69.43" stroke="#000" stroke-width="0.9"/><line x1="193.36" y1="83.90" x2="198.46" y2="72.07" stroke="#000" stroke-width="0.9"/><line x1="193.36" y1="83.90" x2="198.46" y2="74.71" stroke="#000" stroke-width="0.9"/><line x1="193.36" y1="87.62" x2="198.46" y2="77.36" stroke="#000" stroke-width="0.9"/><line x1="193.36" y1="87.62" x2="198.46" y2="80.00" stroke="#000" stroke-width="0.9"/><rect x="197.86" y="60.60" width="1.6" height="1.8" fill="#f6e2e6"/><rect x="197.86" y="65.89" width="1.6" height="1.8" fill="#f6e2e6"/><rect x="197.86" y="71.17" width="1.6" height="1.8" fill="#f6e2e6"/><rect x="197.86" y="76.46" width="1.6" height="1.8" fill="#f6e2e6"/><circle cx="205.14" cy="74.27" r="1.95" fill="#cfd7e5" stroke="#263a60" stroke-width="1.45"/><circle cx="205.14" cy="77.86" r="1.95" fill="#cfd7e5" stroke="#263a60" stroke-width="1.45"/><circle cx="205.14" cy="81.44" r="1.95" fill="#cfd7e5" stroke="#263a60" stroke-width="1.45"/><circle cx="205.14" cy="85.03" r="1.95" fill="#cfd7e5" stroke="#263a60" stroke-width="1.45"/><rect x="208.39" y="62.15" width="3.70" height="3.70" fill="#a01a3c" stroke="#a01a3c" stroke-width="1.5"/><rect x="208.39" y="64.06" width="3.70" height="3.70" fill="#a01a3c" stroke="#a01a3c" stroke-width="1.5"/><rect x="208.39" y="65.98" width="3.70" height="3.70" fill="#a01a3c" stroke="#a01a3c" stroke-width="1.5"/><rect x="208.39" y="67.89" width="3.70" height="3.70" fill="#a01a3c" stroke="#a01a3c" stroke-width="1.5"/><rect x="208.39" y="69.81" width="3.70" height="3.70" fill="#a01a3c" stroke="#a01a3c" stroke-width="1.5"/><rect x="208.39" y="71.72" width="3.70" height="3.70" fill="#a01a3c" stroke="#a01a3c" stroke-width="1.5"/><rect x="208.39" y="73.64" width="3.70" height="3.70" fill="#a01a3c" stroke="#a01a3c" stroke-width="1.5"/><rect x="208.39" y="75.55" width="3.70" height="3.70" fill="#a01a3c" stroke="#a01a3c" stroke-width="1.5"/><line x1="205.14" y1="74.27" x2="210.24" y2="64.00" stroke="#000" stroke-width="0.9"/><line x1="205.14" y1="74.27" x2="210.24" y2="65.91" stroke="#000" stroke-width="0.9"/><line x1="205.14" y1="77.86" x2="210.24" y2="67.83" stroke="#000" stroke-width="0.9"/><line x1="205.14" y1="77.86" x2="210.24" y2="69.74" stroke="#000" stroke-width="0.9"/><line x1="205.14" y1="81.44" x2="210.24" y2="71.66" stroke="#000" stroke-width="0.9"/><line x1="205.14" y1="81.44" x2="210.24" y2="73.57" stroke="#000" stroke-width="0.9"/><line x1="205.14" y1="85.03" x2="210.24" y2="75.49" stroke="#000" stroke-width="0.9"/><line x1="205.14" y1="85.03" x2="210.24" y2="77.40" stroke="#000" stroke-width="0.9"/><rect x="209.64" y="63.10" width="1.6" height="1.8" fill="#f6e2e6"/><rect x="209.64" y="66.93" width="1.6" height="1.8" fill="#f6e2e6"/><rect x="209.64" y="70.76" width="1.6" height="1.8" fill="#f6e2e6"/><rect x="209.64" y="74.59" width="1.6" height="1.8" fill="#f6e2e6"/><circle cx="216.92" cy="80.17" r="1.95" fill="#cfd7e5" stroke="#263a60" stroke-width="1.45"/><circle cx="216.92" cy="83.49" r="1.95" fill="#cfd7e5" stroke="#263a60" stroke-width="1.45"/><circle cx="216.92" cy="86.81" r="1.95" fill="#cfd7e5" stroke="#263a60" stroke-width="1.45"/><circle cx="216.92" cy="90.12" r="1.95" fill="#cfd7e5" stroke="#263a60" stroke-width="1.45"/><rect x="220.17" y="66.45" width="3.70" height="3.70" fill="#a01a3c" stroke="#a01a3c" stroke-width="1.5"/><rect x="220.17" y="68.36" width="3.70" height="3.70" fill="#a01a3c" stroke="#a01a3c" stroke-width="1.5"/><rect x="220.17" y="70.28" width="3.70" height="3.70" fill="#a01a3c" stroke="#a01a3c" stroke-width="1.5"/><rect x="220.17" y="72.19" width="3.70" height="3.70" fill="#a01a3c" stroke="#a01a3c" stroke-width="1.5"/><rect x="220.17" y="74.11" width="3.70" height="3.70" fill="#a01a3c" stroke="#a01a3c" stroke-width="1.5"/><rect x="220.17" y="76.02" width="3.70" height="3.70" fill="#a01a3c" stroke="#a01a3c" stroke-width="1.5"/><rect x="220.17" y="77.94" width="3.70" height="3.70" fill="#a01a3c" stroke="#a01a3c" stroke-width="1.5"/><rect x="220.17" y="79.85" width="3.70" height="3.70" fill="#a01a3c" stroke="#a01a3c" stroke-width="1.5"/><line x1="216.92" y1="80.17" x2="222.02" y2="68.30" stroke="#000" stroke-width="0.9"/><line x1="216.92" y1="80.17" x2="222.02" y2="70.21" stroke="#000" stroke-width="0.9"/><line x1="216.92" y1="83.49" x2="222.02" y2="72.13" stroke="#000" stroke-width="0.9"/><line x1="216.92" y1="83.49" x2="222.02" y2="74.04" stroke="#000" stroke-width="0.9"/><line x1="216.92" y1="86.81" x2="222.02" y2="75.96" stroke="#000" stroke-width="0.9"/><line x1="216.92" y1="86.81" x2="222.02" y2="77.87" stroke="#000" stroke-width="0.9"/><line x1="216.92" y1="90.12" x2="222.02" y2="79.79" stroke="#000" stroke-width="0.9"/><line x1="216.92" y1="90.12" x2="222.02" y2="81.70" stroke="#000" stroke-width="0.9"/><rect x="221.42" y="67.40" width="1.6" height="1.8" fill="#f6e2e6"/><rect x="221.42" y="71.23" width="1.6" height="1.8" fill="#f6e2e6"/><rect x="221.42" y="75.06" width="1.6" height="1.8" fill="#f6e2e6"/><rect x="221.42" y="78.89" width="1.6" height="1.8" fill="#f6e2e6"/><circle cx="228.70" cy="84.47" r="1.95" fill="#cfd7e5" stroke="#263a60" stroke-width="1.45"/><circle cx="228.70" cy="88.15" r="1.95" fill="#cfd7e5" stroke="#263a60" stroke-width="1.45"/><circle cx="228.70" cy="91.83" r="1.95" fill="#cfd7e5" stroke="#263a60" stroke-width="1.45"/><circle cx="228.70" cy="105.50" r="1.95" fill="#cfd7e5" stroke="#263a60" stroke-width="1.45"/><rect x="231.95" y="68.95" width="3.70" height="3.70" fill="#a01a3c" stroke="#a01a3c" stroke-width="1.5"/><rect x="231.95" y="70.99" width="3.70" height="3.70" fill="#a01a3c" stroke="#a01a3c" stroke-width="1.5"/><rect x="231.95" y="73.04" width="3.70" height="3.70" fill="#a01a3c" stroke="#a01a3c" stroke-width="1.5"/><rect x="231.95" y="75.08" width="3.70" height="3.70" fill="#a01a3c" stroke="#a01a3c" stroke-width="1.5"/><rect x="231.95" y="77.12" width="3.70" height="3.70" fill="#a01a3c" stroke="#a01a3c" stroke-width="1.5"/><rect x="231.95" y="79.16" width="3.70" height="3.70" fill="#a01a3c" stroke="#a01a3c" stroke-width="1.5"/><rect x="231.95" y="81.21" width="3.70" height="3.70" fill="#a01a3c" stroke="#a01a3c" stroke-width="1.5"/><rect x="231.95" y="83.25" width="3.70" height="3.70" fill="#a01a3c" stroke="#a01a3c" stroke-width="1.5"/><line x1="228.70" y1="84.47" x2="233.80" y2="70.80" stroke="#000" stroke-width="0.9"/><line x1="228.70" y1="84.47" x2="233.80" y2="72.84" stroke="#000" stroke-width="0.9"/><line x1="228.70" y1="84.47" x2="233.80" y2="74.89" stroke="#000" stroke-width="0.9"/><line x1="228.70" y1="88.15" x2="233.80" y2="76.93" stroke="#000" stroke-width="0.9"/><line x1="228.70" y1="88.15" x2="233.80" y2="78.97" stroke="#000" stroke-width="0.9"/><line x1="228.70" y1="91.83" x2="233.80" y2="81.01" stroke="#000" stroke-width="0.9"/><line x1="228.70" y1="91.83" x2="233.80" y2="83.06" stroke="#000" stroke-width="0.9"/><line x1="228.70" y1="105.50" x2="233.80" y2="85.10" stroke="#000" stroke-width="0.9"/><rect x="233.20" y="69.90" width="1.6" height="1.8" fill="#f6e2e6"/><rect x="233.20" y="73.99" width="1.6" height="1.8" fill="#f6e2e6"/><rect x="233.20" y="78.07" width="1.6" height="1.8" fill="#f6e2e6"/><rect x="233.20" y="82.16" width="1.6" height="1.8" fill="#f6e2e6"/><circle cx="240.48" cy="82.67" r="1.95" fill="#cfd7e5" stroke="#263a60" stroke-width="1.45"/><circle cx="240.48" cy="85.92" r="1.95" fill="#cfd7e5" stroke="#263a60" stroke-width="1.45"/><circle cx="240.48" cy="98.00" r="1.95" fill="#cfd7e5" stroke="#263a60" stroke-width="1.45"/><circle cx="240.48" cy="107.00" r="1.95" fill="#cfd7e5" stroke="#263a60" stroke-width="1.45"/><circle cx="240.48" cy="109.50" r="1.95" fill="#cfd7e5" stroke="#263a60" stroke-width="1.45"/><rect x="243.73" y="68.95" width="3.70" height="3.70" fill="#a01a3c" stroke="#a01a3c" stroke-width="1.5"/><rect x="243.73" y="71.24" width="3.70" height="3.70" fill="#a01a3c" stroke="#a01a3c" stroke-width="1.5"/><rect x="243.73" y="73.52" width="3.70" height="3.70" fill="#a01a3c" stroke="#a01a3c" stroke-width="1.5"/><rect x="243.73" y="75.81" width="3.70" height="3.70" fill="#a01a3c" stroke="#a01a3c" stroke-width="1.5"/><rect x="243.73" y="78.09" width="3.70" height="3.70" fill="#a01a3c" stroke="#a01a3c" stroke-width="1.5"/><rect x="243.73" y="80.38" width="3.70" height="3.70" fill="#a01a3c" stroke="#a01a3c" stroke-width="1.5"/><rect x="243.73" y="82.66" width="3.70" height="3.70" fill="#a01a3c" stroke="#a01a3c" stroke-width="1.5"/><rect x="243.73" y="84.95" width="3.70" height="3.70" fill="#a01a3c" stroke="#a01a3c" stroke-width="1.5"/><line x1="240.48" y1="82.67" x2="245.58" y2="70.80" stroke="#000" stroke-width="0.9"/><line x1="240.48" y1="82.67" x2="245.58" y2="73.09" stroke="#000" stroke-width="0.9"/><line x1="240.48" y1="82.67" x2="245.58" y2="75.37" stroke="#000" stroke-width="0.9"/><line x1="240.48" y1="85.92" x2="245.58" y2="77.66" stroke="#000" stroke-width="0.9"/><line x1="240.48" y1="85.92" x2="245.58" y2="79.94" stroke="#000" stroke-width="0.9"/><line x1="240.48" y1="98.00" x2="245.58" y2="82.23" stroke="#000" stroke-width="0.9"/><line x1="240.48" y1="107.00" x2="245.58" y2="84.51" stroke="#000" stroke-width="0.9"/><line x1="240.48" y1="109.50" x2="245.58" y2="86.80" stroke="#000" stroke-width="0.9"/><rect x="244.98" y="69.90" width="1.6" height="1.8" fill="#f6e2e6"/><rect x="244.98" y="74.47" width="1.6" height="1.8" fill="#f6e2e6"/><rect x="244.98" y="79.04" width="1.6" height="1.8" fill="#f6e2e6"/><rect x="244.98" y="83.61" width="1.6" height="1.8" fill="#f6e2e6"/><circle cx="252.26" cy="79.38" r="1.95" fill="#cfd7e5" stroke="#263a60" stroke-width="1.45"/><circle cx="252.26" cy="84.23" r="1.95" fill="#cfd7e5" stroke="#263a60" stroke-width="1.45"/><rect x="255.51" y="86.75" width="3.70" height="3.70" fill="#a01a3c" stroke="#a01a3c" stroke-width="1.5"/><rect x="255.51" y="89.39" width="3.70" height="3.70" fill="#a01a3c" stroke="#a01a3c" stroke-width="1.5"/><rect x="255.51" y="92.04" width="3.70" height="3.70" fill="#a01a3c" stroke="#a01a3c" stroke-width="1.5"/><rect x="255.51" y="94.68" width="3.70" height="3.70" fill="#a01a3c" stroke="#a01a3c" stroke-width="1.5"/><rect x="255.51" y="97.32" width="3.70" height="3.70" fill="#a01a3c" stroke="#a01a3c" stroke-width="1.5"/><rect x="255.51" y="99.96" width="3.70" height="3.70" fill="#a01a3c" stroke="#a01a3c" stroke-width="1.5"/><rect x="255.51" y="102.61" width="3.70" height="3.70" fill="#a01a3c" stroke="#a01a3c" stroke-width="1.5"/><rect x="255.51" y="105.25" width="3.70" height="3.70" fill="#a01a3c" stroke="#a01a3c" stroke-width="1.5"/><line x1="252.26" y1="79.38" x2="257.36" y2="88.60" stroke="#000" stroke-width="0.9"/><line x1="252.26" y1="79.38" x2="257.36" y2="91.24" stroke="#000" stroke-width="0.9"/><line x1="252.26" y1="79.38" x2="257.36" y2="93.89" stroke="#000" stroke-width="0.9"/><line x1="252.26" y1="79.38" x2="257.36" y2="96.53" stroke="#000" stroke-width="0.9"/><line x1="252.26" y1="84.23" x2="257.36" y2="99.17" stroke="#000" stroke-width="0.9"/><line x1="252.26" y1="84.23" x2="257.36" y2="101.81" stroke="#000" stroke-width="0.9"/><line x1="252.26" y1="84.23" x2="257.36" y2="104.46" stroke="#000" stroke-width="0.9"/><line x1="252.26" y1="84.23" x2="257.36" y2="107.10" stroke="#000" stroke-width="0.9"/><rect x="256.76" y="87.70" width="1.6" height="1.8" fill="#f6e2e6"/><rect x="256.76" y="92.99" width="1.6" height="1.8" fill="#f6e2e6"/><rect x="256.76" y="98.27" width="1.6" height="1.8" fill="#f6e2e6"/><rect x="256.76" y="103.56" width="1.6" height="1.8" fill="#f6e2e6"/><circle cx="264.04" cy="70.88" r="1.95" fill="#cfd7e5" stroke="#263a60" stroke-width="1.45"/><circle cx="264.04" cy="74.10" r="1.95" fill="#cfd7e5" stroke="#263a60" stroke-width="1.45"/><circle cx="264.04" cy="77.33" r="1.95" fill="#cfd7e5" stroke="#263a60" stroke-width="1.45"/><rect x="267.29" y="78.25" width="3.70" height="3.70" fill="#a01a3c" stroke="#a01a3c" stroke-width="1.5"/><rect x="267.29" y="79.58" width="3.70" height="3.70" fill="#a01a3c" stroke="#a01a3c" stroke-width="1.5"/><rect x="267.29" y="80.91" width="3.70" height="3.70" fill="#a01a3c" stroke="#a01a3c" stroke-width="1.5"/><rect x="267.29" y="82.24" width="3.70" height="3.70" fill="#a01a3c" stroke="#a01a3c" stroke-width="1.5"/><rect x="267.29" y="83.56" width="3.70" height="3.70" fill="#a01a3c" stroke="#a01a3c" stroke-width="1.5"/><rect x="267.29" y="84.89" width="3.70" height="3.70" fill="#a01a3c" stroke="#a01a3c" stroke-width="1.5"/><rect x="267.29" y="86.22" width="3.70" height="3.70" fill="#a01a3c" stroke="#a01a3c" stroke-width="1.5"/><rect x="267.29" y="87.55" width="3.70" height="3.70" fill="#a01a3c" stroke="#a01a3c" stroke-width="1.5"/><line x1="264.04" y1="70.88" x2="269.14" y2="80.10" stroke="#000" stroke-width="0.9"/><line x1="264.04" y1="70.88" x2="269.14" y2="81.43" stroke="#000" stroke-width="0.9"/><line x1="264.04" y1="70.88" x2="269.14" y2="82.76" stroke="#000" stroke-width="0.9"/><line x1="264.04" y1="74.10" x2="269.14" y2="84.09" stroke="#000" stroke-width="0.9"/><line x1="264.04" y1="74.10" x2="269.14" y2="85.41" stroke="#000" stroke-width="0.9"/><line x1="264.04" y1="74.10" x2="269.14" y2="86.74" stroke="#000" stroke-width="0.9"/><line x1="264.04" y1="77.33" x2="269.14" y2="88.07" stroke="#000" stroke-width="0.9"/><line x1="264.04" y1="77.33" x2="269.14" y2="89.40" stroke="#000" stroke-width="0.9"/><rect x="268.54" y="79.20" width="1.6" height="1.8" fill="#f6e2e6"/><rect x="268.54" y="81.86" width="1.6" height="1.8" fill="#f6e2e6"/><rect x="268.54" y="84.51" width="1.6" height="1.8" fill="#f6e2e6"/><rect x="268.54" y="87.17" width="1.6" height="1.8" fill="#f6e2e6"/><circle cx="275.82" cy="66.67" r="1.95" fill="#cfd7e5" stroke="#263a60" stroke-width="1.45"/><circle cx="275.82" cy="69.50" r="1.95" fill="#cfd7e5" stroke="#263a60" stroke-width="1.45"/><circle cx="275.82" cy="72.33" r="1.95" fill="#cfd7e5" stroke="#263a60" stroke-width="1.45"/><rect x="279.07" y="70.15" width="3.70" height="3.70" fill="#a01a3c" stroke="#a01a3c" stroke-width="1.5"/><rect x="279.07" y="72.26" width="3.70" height="3.70" fill="#a01a3c" stroke="#a01a3c" stroke-width="1.5"/><rect x="279.07" y="74.38" width="3.70" height="3.70" fill="#a01a3c" stroke="#a01a3c" stroke-width="1.5"/><rect x="279.07" y="76.49" width="3.70" height="3.70" fill="#a01a3c" stroke="#a01a3c" stroke-width="1.5"/><rect x="279.07" y="78.61" width="3.70" height="3.70" fill="#a01a3c" stroke="#a01a3c" stroke-width="1.5"/><rect x="279.07" y="80.72" width="3.70" height="3.70" fill="#a01a3c" stroke="#a01a3c" stroke-width="1.5"/><rect x="279.07" y="82.84" width="3.70" height="3.70" fill="#a01a3c" stroke="#a01a3c" stroke-width="1.5"/><rect x="279.07" y="84.95" width="3.70" height="3.70" fill="#a01a3c" stroke="#a01a3c" stroke-width="1.5"/><line x1="275.82" y1="66.67" x2="280.92" y2="72.00" stroke="#000" stroke-width="0.9"/><line x1="275.82" y1="66.67" x2="280.92" y2="74.11" stroke="#000" stroke-width="0.9"/><line x1="275.82" y1="66.67" x2="280.92" y2="76.23" stroke="#000" stroke-width="0.9"/><line x1="275.82" y1="69.50" x2="280.92" y2="78.34" stroke="#000" stroke-width="0.9"/><line x1="275.82" y1="69.50" x2="280.92" y2="80.46" stroke="#000" stroke-width="0.9"/><line x1="275.82" y1="69.50" x2="280.92" y2="82.57" stroke="#000" stroke-width="0.9"/><line x1="275.82" y1="72.33" x2="280.92" y2="84.69" stroke="#000" stroke-width="0.9"/><line x1="275.82" y1="72.33" x2="280.92" y2="86.80" stroke="#000" stroke-width="0.9"/><rect x="280.32" y="71.10" width="1.6" height="1.8" fill="#f6e2e6"/><rect x="280.32" y="75.33" width="1.6" height="1.8" fill="#f6e2e6"/><rect x="280.32" y="79.56" width="1.6" height="1.8" fill="#f6e2e6"/><rect x="280.32" y="83.79" width="1.6" height="1.8" fill="#f6e2e6"/><circle cx="287.60" cy="54.20" r="1.95" fill="#cfd7e5" stroke="#263a60" stroke-width="1.45"/><circle cx="287.60" cy="66.67" r="1.95" fill="#cfd7e5" stroke="#263a60" stroke-width="1.45"/><circle cx="287.60" cy="69.90" r="1.95" fill="#cfd7e5" stroke="#263a60" stroke-width="1.45"/><circle cx="287.60" cy="73.12" r="1.95" fill="#cfd7e5" stroke="#263a60" stroke-width="1.45"/><rect x="290.85" y="72.35" width="3.70" height="3.70" fill="#a01a3c" stroke="#a01a3c" stroke-width="1.5"/><rect x="290.85" y="73.79" width="3.70" height="3.70" fill="#a01a3c" stroke="#a01a3c" stroke-width="1.5"/><rect x="290.85" y="75.24" width="3.70" height="3.70" fill="#a01a3c" stroke="#a01a3c" stroke-width="1.5"/><rect x="290.85" y="76.68" width="3.70" height="3.70" fill="#a01a3c" stroke="#a01a3c" stroke-width="1.5"/><rect x="290.85" y="78.12" width="3.70" height="3.70" fill="#a01a3c" stroke="#a01a3c" stroke-width="1.5"/><rect x="290.85" y="79.56" width="3.70" height="3.70" fill="#a01a3c" stroke="#a01a3c" stroke-width="1.5"/><rect x="290.85" y="81.01" width="3.70" height="3.70" fill="#a01a3c" stroke="#a01a3c" stroke-width="1.5"/><rect x="290.85" y="82.45" width="3.70" height="3.70" fill="#a01a3c" stroke="#a01a3c" stroke-width="1.5"/><line x1="287.60" y1="54.20" x2="292.70" y2="74.20" stroke="#000" stroke-width="0.9"/><line x1="287.60" y1="66.67" x2="292.70" y2="75.64" stroke="#000" stroke-width="0.9"/><line x1="287.60" y1="66.67" x2="292.70" y2="77.09" stroke="#000" stroke-width="0.9"/><line x1="287.60" y1="66.67" x2="292.70" y2="78.53" stroke="#000" stroke-width="0.9"/><line x1="287.60" y1="69.90" x2="292.70" y2="79.97" stroke="#000" stroke-width="0.9"/><line x1="287.60" y1="69.90" x2="292.70" y2="81.41" stroke="#000" stroke-width="0.9"/><line x1="287.60" y1="73.12" x2="292.70" y2="82.86" stroke="#000" stroke-width="0.9"/><line x1="287.60" y1="73.12" x2="292.70" y2="84.30" stroke="#000" stroke-width="0.9"/><rect x="292.10" y="73.30" width="1.6" height="1.8" fill="#f6e2e6"/><rect x="292.10" y="76.19" width="1.6" height="1.8" fill="#f6e2e6"/><rect x="292.10" y="79.07" width="1.6" height="1.8" fill="#f6e2e6"/><rect x="292.10" y="81.96" width="1.6" height="1.8" fill="#f6e2e6"/><circle cx="299.38" cy="58.17" r="1.95" fill="#cfd7e5" stroke="#263a60" stroke-width="1.45"/><circle cx="299.38" cy="61.00" r="1.95" fill="#cfd7e5" stroke="#263a60" stroke-width="1.45"/><circle cx="299.38" cy="63.82" r="1.95" fill="#cfd7e5" stroke="#263a60" stroke-width="1.45"/><rect x="302.63" y="62.15" width="3.70" height="3.70" fill="#a01a3c" stroke="#a01a3c" stroke-width="1.5"/><rect x="302.63" y="63.46" width="3.70" height="3.70" fill="#a01a3c" stroke="#a01a3c" stroke-width="1.5"/><rect x="302.63" y="64.78" width="3.70" height="3.70" fill="#a01a3c" stroke="#a01a3c" stroke-width="1.5"/><rect x="302.63" y="66.09" width="3.70" height="3.70" fill="#a01a3c" stroke="#a01a3c" stroke-width="1.5"/><rect x="302.63" y="67.41" width="3.70" height="3.70" fill="#a01a3c" stroke="#a01a3c" stroke-width="1.5"/><rect x="302.63" y="68.72" width="3.70" height="3.70" fill="#a01a3c" stroke="#a01a3c" stroke-width="1.5"/><rect x="302.63" y="70.04" width="3.70" height="3.70" fill="#a01a3c" stroke="#a01a3c" stroke-width="1.5"/><rect x="302.63" y="71.35" width="3.70" height="3.70" fill="#a01a3c" stroke="#a01a3c" stroke-width="1.5"/><line x1="299.38" y1="58.17" x2="304.48" y2="64.00" stroke="#000" stroke-width="0.9"/><line x1="299.38" y1="58.17" x2="304.48" y2="65.31" stroke="#000" stroke-width="0.9"/><line x1="299.38" y1="58.17" x2="304.48" y2="66.63" stroke="#000" stroke-width="0.9"/><line x1="299.38" y1="61.00" x2="304.48" y2="67.94" stroke="#000" stroke-width="0.9"/><line x1="299.38" y1="61.00" x2="304.48" y2="69.26" stroke="#000" stroke-width="0.9"/><line x1="299.38" y1="61.00" x2="304.48" y2="70.57" stroke="#000" stroke-width="0.9"/><line x1="299.38" y1="63.82" x2="304.48" y2="71.89" stroke="#000" stroke-width="0.9"/><line x1="299.38" y1="63.82" x2="304.48" y2="73.20" stroke="#000" stroke-width="0.9"/><rect x="303.88" y="63.10" width="1.6" height="1.8" fill="#f6e2e6"/><rect x="303.88" y="65.73" width="1.6" height="1.8" fill="#f6e2e6"/><rect x="303.88" y="68.36" width="1.6" height="1.8" fill="#f6e2e6"/><rect x="303.88" y="70.99" width="1.6" height="1.8" fill="#f6e2e6"/><circle cx="311.16" cy="37.88" r="1.95" fill="#cfd7e5" stroke="#263a60" stroke-width="1.45"/><circle cx="311.16" cy="41.47" r="1.95" fill="#cfd7e5" stroke="#263a60" stroke-width="1.45"/><circle cx="311.16" cy="45.06" r="1.95" fill="#cfd7e5" stroke="#263a60" stroke-width="1.45"/><circle cx="311.16" cy="48.65" r="1.95" fill="#cfd7e5" stroke="#263a60" stroke-width="1.45"/><circle cx="311.16" cy="52.25" r="1.95" fill="#cfd7e5" stroke="#263a60" stroke-width="1.45"/><circle cx="311.16" cy="55.84" r="1.95" fill="#cfd7e5" stroke="#263a60" stroke-width="1.45"/><circle cx="311.16" cy="59.43" r="1.95" fill="#cfd7e5" stroke="#263a60" stroke-width="1.45"/><circle cx="311.16" cy="63.02" r="1.95" fill="#cfd7e5" stroke="#263a60" stroke-width="1.45"/><rect x="314.41" y="55.35" width="3.70" height="3.70" fill="#a01a3c" stroke="#a01a3c" stroke-width="1.5"/><rect x="314.41" y="57.65" width="3.70" height="3.70" fill="#a01a3c" stroke="#a01a3c" stroke-width="1.5"/><rect x="314.41" y="59.95" width="3.70" height="3.70" fill="#a01a3c" stroke="#a01a3c" stroke-width="1.5"/><rect x="314.41" y="62.25" width="3.70" height="3.70" fill="#a01a3c" stroke="#a01a3c" stroke-width="1.5"/><rect x="314.41" y="73.95" width="3.70" height="3.70" fill="#a01a3c" stroke="#a01a3c" stroke-width="1.5"/><rect x="314.41" y="76.25" width="3.70" height="3.70" fill="#a01a3c" stroke="#a01a3c" stroke-width="1.5"/><rect x="314.41" y="78.55" width="3.70" height="3.70" fill="#a01a3c" stroke="#a01a3c" stroke-width="1.5"/><rect x="314.41" y="80.85" width="3.70" height="3.70" fill="#a01a3c" stroke="#a01a3c" stroke-width="1.5"/><line x1="311.16" y1="37.88" x2="316.26" y2="57.20" stroke="#000" stroke-width="0.9"/><line x1="311.16" y1="41.47" x2="316.26" y2="59.50" stroke="#000" stroke-width="0.9"/><line x1="311.16" y1="45.06" x2="316.26" y2="61.80" stroke="#000" stroke-width="0.9"/><line x1="311.16" y1="48.65" x2="316.26" y2="64.10" stroke="#000" stroke-width="0.9"/><line x1="311.16" y1="52.25" x2="316.26" y2="75.80" stroke="#000" stroke-width="0.9"/><line x1="311.16" y1="55.84" x2="316.26" y2="78.10" stroke="#000" stroke-width="0.9"/><line x1="311.16" y1="59.43" x2="316.26" y2="80.40" stroke="#000" stroke-width="0.9"/><line x1="311.16" y1="63.02" x2="316.26" y2="82.70" stroke="#000" stroke-width="0.9"/><rect x="315.66" y="56.30" width="1.6" height="1.8" fill="#f6e2e6"/><rect x="315.66" y="60.90" width="1.6" height="1.8" fill="#f6e2e6"/><rect x="315.66" y="74.90" width="1.6" height="1.8" fill="#f6e2e6"/><rect x="315.66" y="79.50" width="1.6" height="1.8" fill="#f6e2e6"/><line x1="48.80" y1="25.00" x2="48.80" y2="117.90" stroke="#111" stroke-width="1.3"/><line x1="45.60" y1="117.30" x2="48.80" y2="117.30" stroke="#000" stroke-width="1.3"/><text x="42.80" y="121.70" font-size="7.5" text-anchor="end" fill="#111">10<tspan font-size="5.25" dy="-2.6">1</tspan></text><line x1="45.60" y1="99.75" x2="48.80" y2="99.75" stroke="#000" stroke-width="1.3"/><text x="42.80" y="104.15" font-size="7.5" text-anchor="end" fill="#111">10<tspan font-size="5.25" dy="-2.6">2</tspan></text><line x1="45.60" y1="82.20" x2="48.80" y2="82.20" stroke="#000" stroke-width="1.3"/><text x="42.80" y="86.60" font-size="7.5" text-anchor="end" fill="#111">10<tspan font-size="5.25" dy="-2.6">3</tspan></text><line x1="45.60" y1="64.65" x2="48.80" y2="64.65" stroke="#000" stroke-width="1.3"/><text x="42.80" y="69.05" font-size="7.5" text-anchor="end" fill="#111">10<tspan font-size="5.25" dy="-2.6">4</tspan></text><line x1="45.60" y1="47.10" x2="48.80" y2="47.10" stroke="#000" stroke-width="1.3"/><text x="42.80" y="51.50" font-size="7.5" text-anchor="end" fill="#111">10<tspan font-size="5.25" dy="-2.6">5</tspan></text><line x1="45.60" y1="29.55" x2="48.80" y2="29.55" stroke="#000" stroke-width="1.3"/><text x="42.80" y="33.95" font-size="7.5" text-anchor="end" fill="#111">10<tspan font-size="5.25" dy="-2.6">6</tspan></text><line x1="46.20" y1="117.30" x2="319.00" y2="117.30" stroke="#111" stroke-width="1.3"/><line x1="54.80" y1="117.30" x2="54.80" y2="120.30" stroke="#111" stroke-width="1.1"/><line x1="66.58" y1="117.30" x2="66.58" y2="120.30" stroke="#111" stroke-width="1.1"/><line x1="78.36" y1="117.30" x2="78.36" y2="120.30" stroke="#111" stroke-width="1.1"/><line x1="90.14" y1="117.30" x2="90.14" y2="120.30" stroke="#111" stroke-width="1.1"/><line x1="101.92" y1="117.30" x2="101.92" y2="120.30" stroke="#111" stroke-width="1.1"/><line x1="113.70" y1="117.30" x2="113.70" y2="120.30" stroke="#111" stroke-width="1.1"/><line x1="125.48" y1="117.30" x2="125.48" y2="120.30" stroke="#111" stroke-width="1.1"/><line x1="137.26" y1="117.30" x2="137.26" y2="120.30" stroke="#111" stroke-width="1.1"/><line x1="149.04" y1="117.30" x2="149.04" y2="120.30" stroke="#111" stroke-width="1.1"/><line x1="160.82" y1="117.30" x2="160.82" y2="120.30" stroke="#111" stroke-width="1.1"/><line x1="172.60" y1="117.30" x2="172.60" y2="120.30" stroke="#111" stroke-width="1.1"/><line x1="184.38" y1="117.30" x2="184.38" y2="120.30" stroke="#111" stroke-width="1.1"/><line x1="196.16" y1="117.30" x2="196.16" y2="120.30" stroke="#111" stroke-width="1.1"/><line x1="207.94" y1="117.30" x2="207.94" y2="120.30" stroke="#111" stroke-width="1.1"/><line x1="219.72" y1="117.30" x2="219.72" y2="120.30" stroke="#111" stroke-width="1.1"/><line x1="231.50" y1="117.30" x2="231.50" y2="120.30" stroke="#111" stroke-width="1.1"/><line x1="243.28" y1="117.30" x2="243.28" y2="120.30" stroke="#111" stroke-width="1.1"/><line x1="255.06" y1="117.30" x2="255.06" y2="120.30" stroke="#111" stroke-width="1.1"/><line x1="266.84" y1="117.30" x2="266.84" y2="120.30" stroke="#111" stroke-width="1.1"/><line x1="278.62" y1="117.30" x2="278.62" y2="120.30" stroke="#111" stroke-width="1.1"/><line x1="290.40" y1="117.30" x2="290.40" y2="120.30" stroke="#111" stroke-width="1.1"/><line x1="302.18" y1="117.30" x2="302.18" y2="120.30" stroke="#111" stroke-width="1.1"/><line x1="313.96" y1="117.30" x2="313.96" y2="120.30" stroke="#111" stroke-width="1.1"/><line x1="49.50" y1="88.70" x2="319.00" y2="88.70" stroke="#000" stroke-width="1.5" stroke-dasharray="2.6 2.0"/><text x="60.20" y="126.90" font-size="8" text-anchor="end" fill="#111" transform="rotate(-45 60.20 126.90)">CLC</text><text x="71.98" y="126.90" font-size="8" text-anchor="end" fill="#111" transform="rotate(-45 71.98 126.90)">DNTT</text><text x="83.76" y="126.90" font-size="8" text-anchor="end" fill="#111" transform="rotate(-45 83.76 126.90)">IRF8</text><text x="95.54" y="126.90" font-size="8" text-anchor="end" fill="#111" transform="rotate(-45 95.54 126.90)">PRG2</text><text x="107.32" y="126.90" font-size="8" text-anchor="end" fill="#111" transform="rotate(-45 107.32 126.90)">C20orf118</text><text x="119.10" y="126.90" font-size="8" text-anchor="end" fill="#111" transform="rotate(-45 119.10 126.90)">IGJ</text><text x="130.88" y="126.90" font-size="8" text-anchor="end" fill="#111" transform="rotate(-45 130.88 126.90)">BLNK</text><text x="142.66" y="126.90" font-size="8" text-anchor="end" fill="#111" transform="rotate(-45 142.66 126.90)">RNASE6</text><text x="154.44" y="126.90" font-size="8" text-anchor="end" fill="#111" transform="rotate(-45 154.44 126.90)">UHRF1</text><text x="166.22" y="126.90" font-size="8" text-anchor="end" fill="#111" transform="rotate(-45 166.22 126.90)">CLEC4C</text><text x="178.00" y="126.90" font-size="8" text-anchor="end" fill="#111" transform="rotate(-45 178.00 126.90)">CCDC50</text><text x="189.78" y="126.90" font-size="8" text-anchor="end" fill="#111" transform="rotate(-45 189.78 126.90)">CCDC50</text><text x="201.56" y="126.90" font-size="8" text-anchor="end" fill="#111" transform="rotate(-45 201.56 126.90)">LILRA4</text><text x="213.34" y="126.90" font-size="8" text-anchor="end" fill="#111" transform="rotate(-45 213.34 126.90)">EBI2</text><text x="225.12" y="126.90" font-size="8" text-anchor="end" fill="#111" transform="rotate(-45 225.12 126.90)">SCN3A</text><text x="236.90" y="126.90" font-size="8" text-anchor="end" fill="#111" transform="rotate(-45 236.90 126.90)">HS3ST1</text><text x="248.68" y="126.90" font-size="8" text-anchor="end" fill="#111" transform="rotate(-45 248.68 126.90)">NAPSB</text><text x="260.46" y="126.90" font-size="8" text-anchor="end" fill="#111" transform="rotate(-45 260.46 126.90)">MIAT</text><text x="272.24" y="126.90" font-size="8" text-anchor="end" fill="#111" transform="rotate(-45 272.24 126.90)">GIMAP8</text><text x="284.02" y="126.90" font-size="8" text-anchor="end" fill="#111" transform="rotate(-45 284.02 126.90)">C10orf10</text><text x="295.80" y="126.90" font-size="8" text-anchor="end" fill="#111" transform="rotate(-45 295.80 126.90)">SOCS3</text><text x="307.58" y="126.90" font-size="8" text-anchor="end" fill="#111" transform="rotate(-45 307.58 126.90)">PIM1</text><text x="319.36" y="126.90" font-size="8" text-anchor="end" fill="#111" transform="rotate(-45 319.36 126.90)">S100A8</text><line x1="122.60" y1="33.50" x2="137.20" y2="33.50" stroke="#000" stroke-width="1.2"/><circle cx="130.00" cy="33.50" r="1.95" fill="#fff" stroke="#263a60" stroke-width="1.45"/><text x="140.80" y="36.20" font-size="7.6" text-anchor="start" font-weight="normal" fill="#111">G-CSF (n=8)</text><line x1="194.30" y1="33.50" x2="208.70" y2="33.50" stroke="#000" stroke-width="1.2"/><rect x="199.55" y="31.65" width="3.70" height="3.70" fill="#fff" stroke="#a0193c" stroke-width="1.5"/><text x="212.10" y="36.20" font-size="7.6" text-anchor="start" font-weight="normal" fill="#111">Plerixafor (n=8)</text><text x="7.70" y="182.60" font-size="12" text-anchor="start" font-weight="bold" fill="#111">B</text><text x="24.50" y="237.00" font-size="8.6" text-anchor="middle" fill="#111" transform="rotate(-90 24.50 237.00)">Raw signal intensity</text><circle cx="52.50" cy="234.20" r="1.95" fill="#fff" stroke="#2f5288" stroke-width="1.45"/><circle cx="52.50" cy="235.80" r="1.95" fill="#fff" stroke="#2f5288" stroke-width="1.45"/><circle cx="52.50" cy="238.40" r="1.95" fill="#fff" stroke="#2f5288" stroke-width="1.45"/><circle cx="52.50" cy="248.60" r="1.95" fill="#fff" stroke="#2f5288" stroke-width="1.45"/><rect x="55.25" y="207.95" width="3.70" height="3.70" fill="#fff" stroke="#a0193c" stroke-width="1.5"/><rect x="55.25" y="209.95" width="3.70" height="3.70" fill="#fff" stroke="#a0193c" stroke-width="1.5"/><rect x="55.25" y="211.95" width="3.70" height="3.70" fill="#fff" stroke="#a0193c" stroke-width="1.5"/><rect x="55.25" y="213.75" width="3.70" height="3.70" fill="#fff" stroke="#a0193c" stroke-width="1.5"/><line x1="51.70" y1="205.30" x2="57.90" y2="205.30" stroke="#111" stroke-width="1.3"/><circle cx="54.80" cy="195.40" r="1.15" fill="#111"/><circle cx="54.80" cy="198.90" r="1.15" fill="#111"/><circle cx="54.80" cy="202.40" r="1.15" fill="#111"/><circle cx="64.28" cy="206.20" r="1.95" fill="#fff" stroke="#2f5288" stroke-width="1.45"/><circle cx="64.28" cy="208.70" r="1.95" fill="#fff" stroke="#2f5288" stroke-width="1.45"/><circle cx="64.28" cy="211.30" r="1.95" fill="#fff" stroke="#2f5288" stroke-width="1.45"/><circle cx="64.28" cy="224.30" r="1.95" fill="#fff" stroke="#2f5288" stroke-width="1.45"/><rect x="67.03" y="200.15" width="3.70" height="3.70" fill="#fff" stroke="#a0193c" stroke-width="1.5"/><rect x="67.03" y="202.65" width="3.70" height="3.70" fill="#fff" stroke="#a0193c" stroke-width="1.5"/><rect x="67.03" y="206.05" width="3.70" height="3.70" fill="#fff" stroke="#a0193c" stroke-width="1.5"/><line x1="63.48" y1="198.00" x2="69.68" y2="198.00" stroke="#111" stroke-width="1.3"/><circle cx="66.58" cy="195.10" r="1.15" fill="#111"/><circle cx="76.06" cy="225.20" r="1.95" fill="#fff" stroke="#2f5288" stroke-width="1.45"/><circle cx="76.06" cy="233.30" r="1.95" fill="#fff" stroke="#2f5288" stroke-width="1.45"/><circle cx="76.06" cy="235.80" r="1.95" fill="#fff" stroke="#2f5288" stroke-width="1.45"/><circle cx="76.06" cy="240.00" r="1.95" fill="#fff" stroke="#2f5288" stroke-width="1.45"/><rect x="78.81" y="206.05" width="3.70" height="3.70" fill="#fff" stroke="#a0193c" stroke-width="1.5"/><rect x="78.81" y="208.55" width="3.70" height="3.70" fill="#fff" stroke="#a0193c" stroke-width="1.5"/><rect x="78.81" y="211.95" width="3.70" height="3.70" fill="#fff" stroke="#a0193c" stroke-width="1.5"/><line x1="75.26" y1="202.80" x2="81.46" y2="202.80" stroke="#111" stroke-width="1.3"/><circle cx="78.36" cy="192.90" r="1.15" fill="#111"/><circle cx="78.36" cy="196.40" r="1.15" fill="#111"/><circle cx="78.36" cy="199.90" r="1.15" fill="#111"/><circle cx="87.84" cy="230.80" r="1.95" fill="#fff" stroke="#2f5288" stroke-width="1.45"/><circle cx="87.84" cy="237.20" r="1.95" fill="#fff" stroke="#2f5288" stroke-width="1.45"/><circle cx="87.84" cy="249.40" r="1.95" fill="#fff" stroke="#2f5288" stroke-width="1.45"/><rect x="90.59" y="214.55" width="3.70" height="3.70" fill="#fff" stroke="#a0193c" stroke-width="1.5"/><rect x="90.59" y="217.05" width="3.70" height="3.70" fill="#fff" stroke="#a0193c" stroke-width="1.5"/><rect x="90.59" y="228.95" width="3.70" height="3.70" fill="#fff" stroke="#a0193c" stroke-width="1.5"/><line x1="87.04" y1="212.10" x2="93.24" y2="212.10" stroke="#111" stroke-width="1.3"/><circle cx="90.14" cy="209.20" r="1.15" fill="#111"/><circle cx="99.62" cy="223.10" r="1.95" fill="#fff" stroke="#2f5288" stroke-width="1.45"/><circle cx="99.62" cy="225.70" r="1.95" fill="#fff" stroke="#2f5288" stroke-width="1.45"/><circle cx="99.62" cy="228.20" r="1.95" fill="#fff" stroke="#2f5288" stroke-width="1.45"/><circle cx="99.62" cy="229.90" r="1.95" fill="#fff" stroke="#2f5288" stroke-width="1.45"/><rect x="102.37" y="209.45" width="3.70" height="3.70" fill="#fff" stroke="#a0193c" stroke-width="1.5"/><rect x="102.37" y="211.95" width="3.70" height="3.70" fill="#fff" stroke="#a0193c" stroke-width="1.5"/><rect x="102.37" y="214.55" width="3.70" height="3.70" fill="#fff" stroke="#a0193c" stroke-width="1.5"/><line x1="98.82" y1="206.70" x2="105.02" y2="206.70" stroke="#111" stroke-width="1.3"/><circle cx="101.92" cy="200.30" r="1.15" fill="#111"/><circle cx="101.92" cy="203.80" r="1.15" fill="#111"/><circle cx="111.40" cy="231.60" r="1.95" fill="#fff" stroke="#2f5288" stroke-width="1.45"/><circle cx="111.40" cy="234.20" r="1.95" fill="#fff" stroke="#2f5288" stroke-width="1.45"/><circle cx="111.40" cy="236.70" r="1.95" fill="#fff" stroke="#2f5288" stroke-width="1.45"/><circle cx="111.40" cy="248.00" r="1.95" fill="#fff" stroke="#2f5288" stroke-width="1.45"/><rect x="114.15" y="208.55" width="3.70" height="3.70" fill="#fff" stroke="#a0193c" stroke-width="1.5"/><rect x="114.15" y="212.85" width="3.70" height="3.70" fill="#fff" stroke="#a0193c" stroke-width="1.5"/><rect x="114.15" y="219.55" width="3.70" height="3.70" fill="#fff" stroke="#a0193c" stroke-width="1.5"/><rect x="114.15" y="223.45" width="3.70" height="3.70" fill="#fff" stroke="#a0193c" stroke-width="1.5"/><line x1="110.60" y1="206.70" x2="116.80" y2="206.70" stroke="#111" stroke-width="1.3"/><circle cx="113.70" cy="203.80" r="1.15" fill="#111"/><circle cx="123.18" cy="240.90" r="1.95" fill="#fff" stroke="#2f5288" stroke-width="1.45"/><circle cx="123.18" cy="248.00" r="1.95" fill="#fff" stroke="#2f5288" stroke-width="1.45"/><circle cx="123.18" cy="249.40" r="1.95" fill="#fff" stroke="#2f5288" stroke-width="1.45"/><circle cx="123.18" cy="254.20" r="1.95" fill="#fff" stroke="#2f5288" stroke-width="1.45"/><rect x="125.93" y="220.45" width="3.70" height="3.70" fill="#fff" stroke="#a0193c" stroke-width="1.5"/><rect x="125.93" y="223.85" width="3.70" height="3.70" fill="#fff" stroke="#a0193c" stroke-width="1.5"/><rect x="125.93" y="226.35" width="3.70" height="3.70" fill="#fff" stroke="#a0193c" stroke-width="1.5"/><rect x="125.93" y="229.75" width="3.70" height="3.70" fill="#fff" stroke="#a0193c" stroke-width="1.5"/><line x1="122.38" y1="218.00" x2="128.58" y2="218.00" stroke="#111" stroke-width="1.3"/><circle cx="125.48" cy="208.10" r="1.15" fill="#111"/><circle cx="125.48" cy="211.60" r="1.15" fill="#111"/><circle cx="125.48" cy="215.10" r="1.15" fill="#111"/><circle cx="134.96" cy="241.80" r="1.95" fill="#fff" stroke="#2f5288" stroke-width="1.45"/><circle cx="134.96" cy="246.00" r="1.95" fill="#fff" stroke="#2f5288" stroke-width="1.45"/><circle cx="134.96" cy="249.40" r="1.95" fill="#fff" stroke="#2f5288" stroke-width="1.45"/><circle cx="134.96" cy="253.60" r="1.95" fill="#fff" stroke="#2f5288" stroke-width="1.45"/><rect x="137.71" y="221.25" width="3.70" height="3.70" fill="#fff" stroke="#a0193c" stroke-width="1.5"/><rect x="137.71" y="226.35" width="3.70" height="3.70" fill="#fff" stroke="#a0193c" stroke-width="1.5"/><rect x="137.71" y="230.65" width="3.70" height="3.70" fill="#fff" stroke="#a0193c" stroke-width="1.5"/><line x1="134.16" y1="219.70" x2="140.36" y2="219.70" stroke="#111" stroke-width="1.3"/><circle cx="137.26" cy="209.80" r="1.15" fill="#111"/><circle cx="137.26" cy="213.30" r="1.15" fill="#111"/><circle cx="137.26" cy="216.80" r="1.15" fill="#111"/><circle cx="146.74" cy="231.60" r="1.95" fill="#fff" stroke="#2f5288" stroke-width="1.45"/><circle cx="146.74" cy="234.20" r="1.95" fill="#fff" stroke="#2f5288" stroke-width="1.45"/><circle cx="146.74" cy="236.70" r="1.95" fill="#fff" stroke="#2f5288" stroke-width="1.45"/><circle cx="146.74" cy="238.90" r="1.95" fill="#fff" stroke="#2f5288" stroke-width="1.45"/><rect x="149.49" y="219.55" width="3.70" height="3.70" fill="#fff" stroke="#a0193c" stroke-width="1.5"/><rect x="149.49" y="222.45" width="3.70" height="3.70" fill="#fff" stroke="#a0193c" stroke-width="1.5"/><rect x="149.49" y="225.55" width="3.70" height="3.70" fill="#fff" stroke="#a0193c" stroke-width="1.5"/><rect x="149.49" y="227.55" width="3.70" height="3.70" fill="#fff" stroke="#a0193c" stroke-width="1.5"/><line x1="145.94" y1="218.00" x2="152.14" y2="218.00" stroke="#111" stroke-width="1.3"/><circle cx="149.04" cy="208.10" r="1.15" fill="#111"/><circle cx="149.04" cy="211.60" r="1.15" fill="#111"/><circle cx="149.04" cy="215.10" r="1.15" fill="#111"/><circle cx="158.52" cy="250.80" r="1.95" fill="#fff" stroke="#2f5288" stroke-width="1.45"/><circle cx="158.52" cy="258.70" r="1.95" fill="#fff" stroke="#2f5288" stroke-width="1.45"/><circle cx="158.52" cy="263.00" r="1.95" fill="#fff" stroke="#2f5288" stroke-width="1.45"/><circle cx="158.52" cy="267.20" r="1.95" fill="#fff" stroke="#2f5288" stroke-width="1.45"/><rect x="161.27" y="225.55" width="3.70" height="3.70" fill="#fff" stroke="#a0193c" stroke-width="1.5"/><rect x="161.27" y="228.55" width="3.70" height="3.70" fill="#fff" stroke="#a0193c" stroke-width="1.5"/><rect x="161.27" y="231.45" width="3.70" height="3.70" fill="#fff" stroke="#a0193c" stroke-width="1.5"/><rect x="161.27" y="233.95" width="3.70" height="3.70" fill="#fff" stroke="#a0193c" stroke-width="1.5"/><line x1="157.72" y1="222.60" x2="163.92" y2="222.60" stroke="#111" stroke-width="1.3"/><circle cx="160.82" cy="212.70" r="1.15" fill="#111"/><circle cx="160.82" cy="216.20" r="1.15" fill="#111"/><circle cx="160.82" cy="219.70" r="1.15" fill="#111"/><circle cx="170.30" cy="243.50" r="1.95" fill="#fff" stroke="#2f5288" stroke-width="1.45"/><circle cx="170.30" cy="245.20" r="1.95" fill="#fff" stroke="#2f5288" stroke-width="1.45"/><circle cx="170.30" cy="247.40" r="1.95" fill="#fff" stroke="#2f5288" stroke-width="1.45"/><circle cx="170.30" cy="249.10" r="1.95" fill="#fff" stroke="#2f5288" stroke-width="1.45"/><rect x="173.05" y="223.85" width="3.70" height="3.70" fill="#fff" stroke="#a0193c" stroke-width="1.5"/><rect x="173.05" y="226.35" width="3.70" height="3.70" fill="#fff" stroke="#a0193c" stroke-width="1.5"/><rect x="173.05" y="229.75" width="3.70" height="3.70" fill="#fff" stroke="#a0193c" stroke-width="1.5"/><line x1="169.50" y1="220.90" x2="175.70" y2="220.90" stroke="#111" stroke-width="1.3"/><circle cx="172.60" cy="211.00" r="1.15" fill="#111"/><circle cx="172.60" cy="214.50" r="1.15" fill="#111"/><circle cx="172.60" cy="218.00" r="1.15" fill="#111"/><circle cx="182.08" cy="245.70" r="1.95" fill="#fff" stroke="#2f5288" stroke-width="1.45"/><circle cx="182.08" cy="248.00" r="1.95" fill="#fff" stroke="#2f5288" stroke-width="1.45"/><circle cx="182.08" cy="251.40" r="1.95" fill="#fff" stroke="#2f5288" stroke-width="1.45"/><circle cx="182.08" cy="254.50" r="1.95" fill="#fff" stroke="#2f5288" stroke-width="1.45"/><rect x="184.83" y="226.35" width="3.70" height="3.70" fill="#fff" stroke="#a0193c" stroke-width="1.5"/><rect x="184.83" y="237.05" width="3.70" height="3.70" fill="#fff" stroke="#a0193c" stroke-width="1.5"/><line x1="181.28" y1="223.60" x2="187.48" y2="223.60" stroke="#111" stroke-width="1.3"/><circle cx="184.38" cy="220.70" r="1.15" fill="#111"/><circle cx="193.86" cy="252.00" r="1.95" fill="#fff" stroke="#2f5288" stroke-width="1.45"/><circle cx="193.86" cy="256.20" r="1.95" fill="#fff" stroke="#2f5288" stroke-width="1.45"/><circle cx="193.86" cy="263.00" r="1.95" fill="#fff" stroke="#2f5288" stroke-width="1.45"/><rect x="196.61" y="227.15" width="3.70" height="3.70" fill="#fff" stroke="#a0193c" stroke-width="1.5"/><rect x="196.61" y="230.65" width="3.70" height="3.70" fill="#fff" stroke="#a0193c" stroke-width="1.5"/><rect x="196.61" y="233.95" width="3.70" height="3.70" fill="#fff" stroke="#a0193c" stroke-width="1.5"/><rect x="196.61" y="237.35" width="3.70" height="3.70" fill="#fff" stroke="#a0193c" stroke-width="1.5"/><line x1="193.06" y1="224.30" x2="199.26" y2="224.30" stroke="#111" stroke-width="1.3"/><circle cx="196.16" cy="214.40" r="1.15" fill="#111"/><circle cx="196.16" cy="217.90" r="1.15" fill="#111"/><circle cx="196.16" cy="221.40" r="1.15" fill="#111"/><circle cx="205.64" cy="249.00" r="1.95" fill="#fff" stroke="#2f5288" stroke-width="1.45"/><circle cx="205.64" cy="251.40" r="1.95" fill="#fff" stroke="#2f5288" stroke-width="1.45"/><circle cx="205.64" cy="254.50" r="1.95" fill="#fff" stroke="#2f5288" stroke-width="1.45"/><circle cx="205.64" cy="258.70" r="1.95" fill="#fff" stroke="#2f5288" stroke-width="1.45"/><rect x="208.39" y="235.65" width="3.70" height="3.70" fill="#fff" stroke="#a0193c" stroke-width="1.5"/><rect x="208.39" y="237.75" width="3.70" height="3.70" fill="#fff" stroke="#a0193c" stroke-width="1.5"/><rect x="208.39" y="246.75" width="3.70" height="3.70" fill="#fff" stroke="#a0193c" stroke-width="1.5"/><line x1="204.84" y1="233.30" x2="211.04" y2="233.30" stroke="#111" stroke-width="1.3"/><circle cx="207.94" cy="230.40" r="1.15" fill="#111"/><circle cx="217.42" cy="235.50" r="1.95" fill="#fff" stroke="#2f5288" stroke-width="1.45"/><circle cx="217.42" cy="247.70" r="1.95" fill="#fff" stroke="#2f5288" stroke-width="1.45"/><circle cx="217.42" cy="251.40" r="1.95" fill="#fff" stroke="#2f5288" stroke-width="1.45"/><circle cx="217.42" cy="255.30" r="1.95" fill="#fff" stroke="#2f5288" stroke-width="1.45"/><rect x="220.17" y="239.05" width="3.70" height="3.70" fill="#fff" stroke="#a0193c" stroke-width="1.5"/><rect x="220.17" y="242.85" width="3.70" height="3.70" fill="#fff" stroke="#a0193c" stroke-width="1.5"/><rect x="220.17" y="246.75" width="3.70" height="3.70" fill="#fff" stroke="#a0193c" stroke-width="1.5"/><circle cx="229.20" cy="257.90" r="1.95" fill="#fff" stroke="#2f5288" stroke-width="1.45"/><circle cx="229.20" cy="260.90" r="1.95" fill="#fff" stroke="#2f5288" stroke-width="1.45"/><circle cx="229.20" cy="263.80" r="1.95" fill="#fff" stroke="#2f5288" stroke-width="1.45"/><rect x="231.95" y="240.75" width="3.70" height="3.70" fill="#fff" stroke="#a0193c" stroke-width="1.5"/><rect x="231.95" y="243.35" width="3.70" height="3.70" fill="#fff" stroke="#a0193c" stroke-width="1.5"/><rect x="231.95" y="246.75" width="3.70" height="3.70" fill="#fff" stroke="#a0193c" stroke-width="1.5"/><line x1="228.40" y1="238.40" x2="234.60" y2="238.40" stroke="#111" stroke-width="1.3"/><circle cx="231.50" cy="228.50" r="1.15" fill="#111"/><circle cx="231.50" cy="232.00" r="1.15" fill="#111"/><circle cx="231.50" cy="235.50" r="1.15" fill="#111"/><circle cx="240.98" cy="252.80" r="1.95" fill="#fff" stroke="#2f5288" stroke-width="1.45"/><circle cx="240.98" cy="256.20" r="1.95" fill="#fff" stroke="#2f5288" stroke-width="1.45"/><circle cx="240.98" cy="258.20" r="1.95" fill="#fff" stroke="#2f5288" stroke-width="1.45"/><circle cx="240.98" cy="281.00" r="1.95" fill="#fff" stroke="#2f5288" stroke-width="1.45"/><rect x="243.73" y="228.95" width="3.70" height="3.70" fill="#fff" stroke="#a0193c" stroke-width="1.5"/><rect x="243.73" y="232.35" width="3.70" height="3.70" fill="#fff" stroke="#a0193c" stroke-width="1.5"/><rect x="243.73" y="235.65" width="3.70" height="3.70" fill="#fff" stroke="#a0193c" stroke-width="1.5"/><rect x="243.73" y="239.05" width="3.70" height="3.70" fill="#fff" stroke="#a0193c" stroke-width="1.5"/><line x1="240.18" y1="226.20" x2="246.38" y2="226.20" stroke="#111" stroke-width="1.3"/><circle cx="243.28" cy="216.30" r="1.15" fill="#111"/><circle cx="243.28" cy="219.80" r="1.15" fill="#111"/><circle cx="243.28" cy="223.30" r="1.15" fill="#111"/><circle cx="252.76" cy="236.70" r="1.95" fill="#fff" stroke="#2f5288" stroke-width="1.45"/><circle cx="252.76" cy="238.90" r="1.95" fill="#fff" stroke="#2f5288" stroke-width="1.45"/><circle cx="252.76" cy="241.80" r="1.95" fill="#fff" stroke="#2f5288" stroke-width="1.45"/><circle cx="252.76" cy="244.30" r="1.95" fill="#fff" stroke="#2f5288" stroke-width="1.45"/><rect x="255.51" y="247.55" width="3.70" height="3.70" fill="#fff" stroke="#a0193c" stroke-width="1.5"/><rect x="255.51" y="250.95" width="3.70" height="3.70" fill="#fff" stroke="#a0193c" stroke-width="1.5"/><rect x="255.51" y="254.65" width="3.70" height="3.70" fill="#fff" stroke="#a0193c" stroke-width="1.5"/><line x1="251.96" y1="233.00" x2="258.16" y2="233.00" stroke="#111" stroke-width="1.3"/><circle cx="255.06" cy="226.60" r="1.15" fill="#111"/><circle cx="255.06" cy="230.10" r="1.15" fill="#111"/><circle cx="264.54" cy="232.50" r="1.95" fill="#fff" stroke="#2f5288" stroke-width="1.45"/><circle cx="264.54" cy="235.00" r="1.95" fill="#fff" stroke="#2f5288" stroke-width="1.45"/><circle cx="264.54" cy="237.50" r="1.95" fill="#fff" stroke="#2f5288" stroke-width="1.45"/><circle cx="264.54" cy="239.60" r="1.95" fill="#fff" stroke="#2f5288" stroke-width="1.45"/><rect x="267.29" y="245.85" width="3.70" height="3.70" fill="#fff" stroke="#a0193c" stroke-width="1.5"/><rect x="267.29" y="248.45" width="3.70" height="3.70" fill="#fff" stroke="#a0193c" stroke-width="1.5"/><rect x="267.29" y="250.95" width="3.70" height="3.70" fill="#fff" stroke="#a0193c" stroke-width="1.5"/><rect x="267.29" y="254.35" width="3.70" height="3.70" fill="#fff" stroke="#a0193c" stroke-width="1.5"/><line x1="263.74" y1="229.00" x2="269.94" y2="229.00" stroke="#111" stroke-width="1.3"/><circle cx="266.84" cy="219.10" r="1.15" fill="#111"/><circle cx="266.84" cy="222.60" r="1.15" fill="#111"/><circle cx="266.84" cy="226.10" r="1.15" fill="#111"/><circle cx="276.32" cy="229.00" r="1.95" fill="#fff" stroke="#2f5288" stroke-width="1.45"/><circle cx="276.32" cy="231.60" r="1.95" fill="#fff" stroke="#2f5288" stroke-width="1.45"/><circle cx="276.32" cy="234.20" r="1.95" fill="#fff" stroke="#2f5288" stroke-width="1.45"/><circle cx="276.32" cy="237.90" r="1.95" fill="#fff" stroke="#2f5288" stroke-width="1.45"/><rect x="279.07" y="234.85" width="3.70" height="3.70" fill="#fff" stroke="#a0193c" stroke-width="1.5"/><rect x="279.07" y="238.75" width="3.70" height="3.70" fill="#fff" stroke="#a0193c" stroke-width="1.5"/><line x1="275.52" y1="224.30" x2="281.72" y2="224.30" stroke="#111" stroke-width="1.3"/><circle cx="278.62" cy="221.40" r="1.15" fill="#111"/><circle cx="288.10" cy="221.40" r="1.95" fill="#fff" stroke="#2f5288" stroke-width="1.45"/><circle cx="288.10" cy="227.00" r="1.95" fill="#fff" stroke="#2f5288" stroke-width="1.45"/><circle cx="288.10" cy="229.40" r="1.95" fill="#fff" stroke="#2f5288" stroke-width="1.45"/><circle cx="288.10" cy="232.10" r="1.95" fill="#fff" stroke="#2f5288" stroke-width="1.45"/><rect x="290.85" y="229.75" width="3.70" height="3.70" fill="#fff" stroke="#a0193c" stroke-width="1.5"/><rect x="290.85" y="237.75" width="3.70" height="3.70" fill="#fff" stroke="#a0193c" stroke-width="1.5"/><rect x="290.85" y="246.15" width="3.70" height="3.70" fill="#fff" stroke="#a0193c" stroke-width="1.5"/><line x1="287.30" y1="216.90" x2="293.50" y2="216.90" stroke="#111" stroke-width="1.3"/><circle cx="290.40" cy="214.00" r="1.15" fill="#111"/><circle cx="299.88" cy="218.00" r="1.95" fill="#fff" stroke="#2f5288" stroke-width="1.45"/><circle cx="299.88" cy="218.90" r="1.95" fill="#fff" stroke="#2f5288" stroke-width="1.45"/><rect x="302.63" y="225.55" width="3.70" height="3.70" fill="#fff" stroke="#a0193c" stroke-width="1.5"/><rect x="302.63" y="227.55" width="3.70" height="3.70" fill="#fff" stroke="#a0193c" stroke-width="1.5"/><line x1="299.08" y1="212.10" x2="305.28" y2="212.10" stroke="#111" stroke-width="1.3"/><circle cx="302.18" cy="202.20" r="1.15" fill="#111"/><circle cx="302.18" cy="205.70" r="1.15" fill="#111"/><circle cx="302.18" cy="209.20" r="1.15" fill="#111"/><circle cx="311.66" cy="211.30" r="1.95" fill="#fff" stroke="#2f5288" stroke-width="1.45"/><circle cx="311.66" cy="215.50" r="1.95" fill="#fff" stroke="#2f5288" stroke-width="1.45"/><circle cx="311.66" cy="220.90" r="1.95" fill="#fff" stroke="#2f5288" stroke-width="1.45"/><circle cx="311.66" cy="233.80" r="1.95" fill="#fff" stroke="#2f5288" stroke-width="1.45"/><rect x="314.41" y="224.65" width="3.70" height="3.70" fill="#fff" stroke="#a0193c" stroke-width="1.5"/><rect x="314.41" y="238.25" width="3.70" height="3.70" fill="#fff" stroke="#a0193c" stroke-width="1.5"/><rect x="314.41" y="247.25" width="3.70" height="3.70" fill="#fff" stroke="#a0193c" stroke-width="1.5"/><line x1="48.80" y1="190.50" x2="48.80" y2="285.20" stroke="#111" stroke-width="1.3"/><line x1="45.60" y1="284.60" x2="48.80" y2="284.60" stroke="#000" stroke-width="1.3"/><text x="42.80" y="289.00" font-size="7.5" text-anchor="end" fill="#111">10<tspan font-size="5.25" dy="-2.6">1</tspan></text><line x1="45.60" y1="262.02" x2="48.80" y2="262.02" stroke="#000" stroke-width="1.3"/><text x="42.80" y="266.42" font-size="7.5" text-anchor="end" fill="#111">10<tspan font-size="5.25" dy="-2.6">2</tspan></text><line x1="45.60" y1="239.44" x2="48.80" y2="239.44" stroke="#000" stroke-width="1.3"/><text x="42.80" y="243.84" font-size="7.5" text-anchor="end" fill="#111">10<tspan font-size="5.25" dy="-2.6">3</tspan></text><line x1="45.60" y1="216.86" x2="48.80" y2="216.86" stroke="#000" stroke-width="1.3"/><text x="42.80" y="221.26" font-size="7.5" text-anchor="end" fill="#111">10<tspan font-size="5.25" dy="-2.6">4</tspan></text><line x1="45.60" y1="194.28" x2="48.80" y2="194.28" stroke="#000" stroke-width="1.3"/><text x="42.80" y="198.68" font-size="7.5" text-anchor="end" fill="#111">10<tspan font-size="5.25" dy="-2.6">5</tspan></text><line x1="46.20" y1="284.60" x2="319.00" y2="284.60" stroke="#111" stroke-width="1.3"/><line x1="54.80" y1="284.60" x2="54.80" y2="287.60" stroke="#111" stroke-width="1.1"/><line x1="66.58" y1="284.60" x2="66.58" y2="287.60" stroke="#111" stroke-width="1.1"/><line x1="78.36" y1="284.60" x2="78.36" y2="287.60" stroke="#111" stroke-width="1.1"/><line x1="90.14" y1="284.60" x2="90.14" y2="287.60" stroke="#111" stroke-width="1.1"/><line x1="101.92" y1="284.60" x2="101.92" y2="287.60" stroke="#111" stroke-width="1.1"/><line x1="113.70" y1="284.60" x2="113.70" y2="287.60" stroke="#111" stroke-width="1.1"/><line x1="125.48" y1="284.60" x2="125.48" y2="287.60" stroke="#111" stroke-width="1.1"/><line x1="137.26" y1="284.60" x2="137.26" y2="287.60" stroke="#111" stroke-width="1.1"/><line x1="149.04" y1="284.60" x2="149.04" y2="287.60" stroke="#111" stroke-width="1.1"/><line x1="160.82" y1="284.60" x2="160.82" y2="287.60" stroke="#111" stroke-width="1.1"/><line x1="172.60" y1="284.60" x2="172.60" y2="287.60" stroke="#111" stroke-width="1.1"/><line x1="184.38" y1="284.60" x2="184.38" y2="287.60" stroke="#111" stroke-width="1.1"/><line x1="196.16" y1="284.60" x2="196.16" y2="287.60" stroke="#111" stroke-width="1.1"/><line x1="207.94" y1="284.60" x2="207.94" y2="287.60" stroke="#111" stroke-width="1.1"/><line x1="219.72" y1="284.60" x2="219.72" y2="287.60" stroke="#111" stroke-width="1.1"/><line x1="231.50" y1="284.60" x2="231.50" y2="287.60" stroke="#111" stroke-width="1.1"/><line x1="243.28" y1="284.60" x2="243.28" y2="287.60" stroke="#111" stroke-width="1.1"/><line x1="255.06" y1="284.60" x2="255.06" y2="287.60" stroke="#111" stroke-width="1.1"/><line x1="266.84" y1="284.60" x2="266.84" y2="287.60" stroke="#111" stroke-width="1.1"/><line x1="278.62" y1="284.60" x2="278.62" y2="287.60" stroke="#111" stroke-width="1.1"/><line x1="290.40" y1="284.60" x2="290.40" y2="287.60" stroke="#111" stroke-width="1.1"/><line x1="302.18" y1="284.60" x2="302.18" y2="287.60" stroke="#111" stroke-width="1.1"/><line x1="313.96" y1="284.60" x2="313.96" y2="287.60" stroke="#111" stroke-width="1.1"/><line x1="49.50" y1="248.60" x2="319.00" y2="248.60" stroke="#000" stroke-width="1.5" stroke-dasharray="2.6 2.0"/><text x="60.20" y="294.20" font-size="8" text-anchor="end" fill="#111" transform="rotate(-45 60.20 294.20)">CLC</text><text x="71.98" y="294.20" font-size="8" text-anchor="end" fill="#111" transform="rotate(-45 71.98 294.20)">DNTT</text><text x="83.76" y="294.20" font-size="8" text-anchor="end" fill="#111" transform="rotate(-45 83.76 294.20)">IRF8</text><text x="95.54" y="294.20" font-size="8" text-anchor="end" fill="#111" transform="rotate(-45 95.54 294.20)">PRG2</text><text x="107.32" y="294.20" font-size="8" text-anchor="end" fill="#111" transform="rotate(-45 107.32 294.20)">C20orf118</text><text x="119.10" y="294.20" font-size="8" text-anchor="end" fill="#111" transform="rotate(-45 119.10 294.20)">IGJ</text><text x="130.88" y="294.20" font-size="8" text-anchor="end" fill="#111" transform="rotate(-45 130.88 294.20)">BLNK</text><text x="142.66" y="294.20" font-size="8" text-anchor="end" fill="#111" transform="rotate(-45 142.66 294.20)">RNASE6</text><text x="154.44" y="294.20" font-size="8" text-anchor="end" fill="#111" transform="rotate(-45 154.44 294.20)">UHRF1</text><text x="166.22" y="294.20" font-size="8" text-anchor="end" fill="#111" transform="rotate(-45 166.22 294.20)">CLEC4C</text><text x="178.00" y="294.20" font-size="8" text-anchor="end" fill="#111" transform="rotate(-45 178.00 294.20)">CCDC50</text><text x="189.78" y="294.20" font-size="8" text-anchor="end" fill="#111" transform="rotate(-45 189.78 294.20)">CCDC50</text><text x="201.56" y="294.20" font-size="8" text-anchor="end" fill="#111" transform="rotate(-45 201.56 294.20)">LILRA4</text><text x="213.34" y="294.20" font-size="8" text-anchor="end" fill="#111" transform="rotate(-45 213.34 294.20)">EBI2</text><text x="225.12" y="294.20" font-size="8" text-anchor="end" fill="#111" transform="rotate(-45 225.12 294.20)">SCN3A</text><text x="236.90" y="294.20" font-size="8" text-anchor="end" fill="#111" transform="rotate(-45 236.90 294.20)">HS3ST1</text><text x="248.68" y="294.20" font-size="8" text-anchor="end" fill="#111" transform="rotate(-45 248.68 294.20)">NAPSB</text><text x="260.46" y="294.20" font-size="8" text-anchor="end" fill="#111" transform="rotate(-45 260.46 294.20)">MIAT</text><text x="272.24" y="294.20" font-size="8" text-anchor="end" fill="#111" transform="rotate(-45 272.24 294.20)">GIMAP8</text><text x="284.02" y="294.20" font-size="8" text-anchor="end" fill="#111" transform="rotate(-45 284.02 294.20)">C10orf10</text><text x="295.80" y="294.20" font-size="8" text-anchor="end" fill="#111" transform="rotate(-45 295.80 294.20)">SOCS3</text><text x="307.58" y="294.20" font-size="8" text-anchor="end" fill="#111" transform="rotate(-45 307.58 294.20)">PIM1</text><text x="319.36" y="294.20" font-size="8" text-anchor="end" fill="#111" transform="rotate(-45 319.36 294.20)">S100A8</text><circle cx="129.90" cy="197.20" r="1.95" fill="#fff" stroke="#2f5288" stroke-width="1.45"/><text x="135.00" y="199.90" font-size="7.6" text-anchor="start" font-weight="normal" fill="#111">G-CSF (n=4)</text><rect x="189.05" y="195.35" width="3.70" height="3.70" fill="#fff" stroke="#a0193c" stroke-width="1.5"/><text x="196.90" y="199.90" font-size="7.6" text-anchor="start" font-weight="normal" fill="#111">Plerixafor (n=4)</text><text x="348.80" y="16.00" font-size="12" text-anchor="start" font-weight="bold" fill="#111">C</text><text x="426.00" y="28.60" font-size="8.7" text-anchor="middle" font-weight="bold" fill="#111">22 Probes</text><line x1="377.60" y1="34.50" x2="377.60" y2="113.20" stroke="#111" stroke-width="1.2"/><line x1="375.10" y1="111.90" x2="377.60" y2="111.90" stroke="#111" stroke-width="1.1"/><text x="372.00" y="114.20" font-size="7.2" text-anchor="end" font-weight="normal" fill="#111">0</text><line x1="375.10" y1="95.20" x2="377.60" y2="95.20" stroke="#111" stroke-width="1.1"/><text x="372.00" y="97.50" font-size="7.2" text-anchor="end" font-weight="normal" fill="#111">1</text><line x1="375.10" y1="78.50" x2="377.60" y2="78.50" stroke="#111" stroke-width="1.1"/><text x="372.00" y="80.80" font-size="7.2" text-anchor="end" font-weight="normal" fill="#111">2</text><line x1="375.10" y1="61.80" x2="377.60" y2="61.80" stroke="#111" stroke-width="1.1"/><text x="372.00" y="64.10" font-size="7.2" text-anchor="end" font-weight="normal" fill="#111">3</text><line x1="375.10" y1="45.10" x2="377.60" y2="45.10" stroke="#111" stroke-width="1.1"/><text x="372.00" y="47.40" font-size="7.2" text-anchor="end" font-weight="normal" fill="#111">4</text><text x="361.30" y="73.20" font-size="8.5" text-anchor="middle" fill="#111" transform="rotate(-90 361.30 73.20)">Height</text><path d="M393.91 102.50 L393.91 96.80 L400.24 96.80 L400.24 102.50" fill="none" stroke="#111" stroke-width="1.25"/><path d="M387.58 100.00 L387.58 93.80 L397.08 93.80 L397.08 96.80" fill="none" stroke="#111" stroke-width="1.25"/><path d="M381.25 91.20 L381.25 84.30 L392.33 84.30 L392.33 93.80" fill="none" stroke="#111" stroke-width="1.25"/><path d="M419.23 103.70 L419.23 97.00 L425.56 97.00 L425.56 103.70" fill="none" stroke="#111" stroke-width="1.25"/><path d="M412.90 96.30 L412.90 89.30 L422.39 89.30 L422.39 97.00" fill="none" stroke="#111" stroke-width="1.25"/><path d="M406.57 82.50 L406.57 76.50 L417.65 76.50 L417.65 89.30" fill="none" stroke="#111" stroke-width="1.25"/><path d="M386.79 84.30 L386.79 73.00 L412.11 73.00 L412.11 76.50" fill="none" stroke="#111" stroke-width="1.25"/><path d="M431.89 102.50 L431.89 95.00 L438.22 95.00 L438.22 102.50" fill="none" stroke="#111" stroke-width="1.25"/><path d="M444.55 103.70 L444.55 97.00 L450.88 97.00 L450.88 103.70" fill="none" stroke="#111" stroke-width="1.25"/><path d="M457.21 102.50 L457.21 95.00 L463.54 95.00 L463.54 102.50" fill="none" stroke="#111" stroke-width="1.25"/><path d="M447.72 97.00 L447.72 88.00 L460.38 88.00 L460.38 95.00" fill="none" stroke="#111" stroke-width="1.25"/><path d="M469.87 91.30 L469.87 84.00 L476.20 84.00 L476.20 91.30" fill="none" stroke="#111" stroke-width="1.25"/><path d="M454.05 88.00 L454.05 80.00 L473.03 80.00 L473.03 84.00" fill="none" stroke="#111" stroke-width="1.25"/><path d="M435.06 95.00 L435.06 65.80 L463.54 65.80 L463.54 80.00" fill="none" stroke="#111" stroke-width="1.25"/><path d="M399.45 73.00 L399.45 36.50 L449.30 36.50 L449.30 65.80" fill="none" stroke="#111" stroke-width="1.25"/><text x="383.85" y="97.20" font-size="7.8" text-anchor="end" fill="#111" transform="rotate(-90 383.85 97.20)">G8</text><text x="390.18" y="106.00" font-size="7.8" text-anchor="end" fill="#111" transform="rotate(-90 390.18 106.00)">G5</text><text x="396.51" y="108.50" font-size="7.8" text-anchor="end" fill="#111" transform="rotate(-90 396.51 108.50)">G4</text><text x="402.84" y="108.50" font-size="7.8" text-anchor="end" fill="#111" transform="rotate(-90 402.84 108.50)">G7</text><text x="409.17" y="88.50" font-size="7.8" text-anchor="end" fill="#111" transform="rotate(-90 409.17 88.50)">G6</text><text x="415.50" y="102.30" font-size="7.8" text-anchor="end" fill="#111" transform="rotate(-90 415.50 102.30)">G3</text><text x="421.83" y="109.70" font-size="7.8" text-anchor="end" fill="#111" transform="rotate(-90 421.83 109.70)">G1</text><text x="428.16" y="109.70" font-size="7.8" text-anchor="end" fill="#111" transform="rotate(-90 428.16 109.70)">G2</text><text x="434.49" y="108.50" font-size="7.8" text-anchor="end" fill="#111" transform="rotate(-90 434.49 108.50)">A1</text><text x="440.82" y="108.50" font-size="7.8" text-anchor="end" fill="#111" transform="rotate(-90 440.82 108.50)">A3</text><text x="447.15" y="109.70" font-size="7.8" text-anchor="end" fill="#111" transform="rotate(-90 447.15 109.70)">A2</text><text x="453.48" y="109.70" font-size="7.8" text-anchor="end" fill="#111" transform="rotate(-90 453.48 109.70)">A4</text><text x="459.81" y="108.50" font-size="7.8" text-anchor="end" fill="#111" transform="rotate(-90 459.81 108.50)">A5</text><text x="466.14" y="108.50" font-size="7.8" text-anchor="end" fill="#111" transform="rotate(-90 466.14 108.50)">A6</text><text x="472.47" y="97.30" font-size="7.8" text-anchor="end" fill="#111" transform="rotate(-90 472.47 97.30)">A7</text><text x="478.80" y="97.30" font-size="7.8" text-anchor="end" fill="#111" transform="rotate(-90 478.80 97.30)">A8</text><text x="428.60" y="141.80" font-size="8.7" text-anchor="middle" font-weight="bold" fill="#111">37 Correlated Probes</text><line x1="378.00" y1="148.00" x2="378.00" y2="215.80" stroke="#111" stroke-width="1.2"/><line x1="375.50" y1="214.30" x2="378.00" y2="214.30" stroke="#111" stroke-width="1.1"/><text x="372.60" y="216.60" font-size="7.2" text-anchor="end" font-weight="normal" fill="#111">2</text><line x1="375.50" y1="199.78" x2="378.00" y2="199.78" stroke="#111" stroke-width="1.1"/><text x="372.60" y="202.08" font-size="7.2" text-anchor="end" font-weight="normal" fill="#111">4</text><line x1="375.50" y1="185.26" x2="378.00" y2="185.26" stroke="#111" stroke-width="1.1"/><text x="372.60" y="187.56" font-size="7.2" text-anchor="end" font-weight="normal" fill="#111">6</text><line x1="375.50" y1="170.74" x2="378.00" y2="170.74" stroke="#111" stroke-width="1.1"/><text x="372.60" y="173.04" font-size="7.2" text-anchor="end" font-weight="normal" fill="#111">8</text><line x1="375.50" y1="156.22" x2="378.00" y2="156.22" stroke="#111" stroke-width="1.1"/><text x="372.60" y="158.52" font-size="7.2" text-anchor="end" font-weight="normal" fill="#111">10</text><text x="356.20" y="181.00" font-size="8.5" text-anchor="middle" fill="#111" transform="rotate(-90 356.20 181.00)">Height</text><path d="M420.22 217.50 L420.22 211.30 L426.59 211.30 L426.59 217.50" fill="none" stroke="#111" stroke-width="1.25"/><path d="M413.85 207.50 L413.85 203.30 L423.41 203.30 L423.41 211.30" fill="none" stroke="#111" stroke-width="1.25"/><path d="M407.48 207.50 L407.48 201.80 L418.63 201.80 L418.63 203.30" fill="none" stroke="#111" stroke-width="1.25"/><path d="M401.11 203.80 L401.11 198.00 L413.05 198.00 L413.05 201.80" fill="none" stroke="#111" stroke-width="1.25"/><path d="M388.37 206.30 L388.37 201.30 L394.74 201.30 L394.74 206.30" fill="none" stroke="#111" stroke-width="1.25"/><path d="M391.56 201.30 L391.56 192.50 L407.08 192.50 L407.08 198.00" fill="none" stroke="#111" stroke-width="1.25"/><path d="M382.00 190.80 L382.00 183.80 L399.32 183.80 L399.32 192.50" fill="none" stroke="#111" stroke-width="1.25"/><path d="M452.07 210.50 L452.07 204.60 L458.44 204.60 L458.44 210.50" fill="none" stroke="#111" stroke-width="1.25"/><path d="M445.70 206.00 L445.70 199.60 L455.25 199.60 L455.25 204.60" fill="none" stroke="#111" stroke-width="1.25"/><path d="M439.33 205.80 L439.33 199.20 L450.48 199.20 L450.48 199.60" fill="none" stroke="#111" stroke-width="1.25"/><path d="M471.18 209.00 L471.18 203.00 L477.55 203.00 L477.55 209.00" fill="none" stroke="#111" stroke-width="1.25"/><path d="M464.81 200.80 L464.81 194.60 L474.37 194.60 L474.37 203.00" fill="none" stroke="#111" stroke-width="1.25"/><path d="M444.90 199.20 L444.90 188.70 L469.59 188.70 L469.59 194.60" fill="none" stroke="#111" stroke-width="1.25"/><path d="M432.96 185.40 L432.96 178.40 L457.25 178.40 L457.25 188.70" fill="none" stroke="#111" stroke-width="1.25"/><path d="M390.66 183.80 L390.66 150.00 L445.10 150.00 L445.10 178.40" fill="none" stroke="#111" stroke-width="1.25"/><text x="384.60" y="196.80" font-size="7.8" text-anchor="end" fill="#111" transform="rotate(-90 384.60 196.80)">A3</text><text x="390.97" y="212.30" font-size="7.8" text-anchor="end" fill="#111" transform="rotate(-90 390.97 212.30)">A6</text><text x="397.34" y="212.30" font-size="7.8" text-anchor="end" fill="#111" transform="rotate(-90 397.34 212.30)">A8</text><text x="403.71" y="209.80" font-size="7.8" text-anchor="end" fill="#111" transform="rotate(-90 403.71 209.80)">A7</text><text x="410.08" y="213.50" font-size="7.8" text-anchor="end" fill="#111" transform="rotate(-90 410.08 213.50)">A1</text><text x="416.45" y="213.50" font-size="7.8" text-anchor="end" fill="#111" transform="rotate(-90 416.45 213.50)">A5</text><text x="422.82" y="223.50" font-size="7.8" text-anchor="end" fill="#111" transform="rotate(-90 422.82 223.50)">A2</text><text x="429.19" y="223.50" font-size="7.8" text-anchor="end" fill="#111" transform="rotate(-90 429.19 223.50)">A4</text><text x="435.56" y="191.40" font-size="7.8" text-anchor="end" fill="#111" transform="rotate(-90 435.56 191.40)">G8</text><text x="441.93" y="211.80" font-size="7.8" text-anchor="end" fill="#111" transform="rotate(-90 441.93 211.80)">G2</text><text x="448.30" y="212.00" font-size="7.8" text-anchor="end" fill="#111" transform="rotate(-90 448.30 212.00)">G6</text><text x="454.67" y="216.50" font-size="7.8" text-anchor="end" fill="#111" transform="rotate(-90 454.67 216.50)">G4</text><text x="461.04" y="216.50" font-size="7.8" text-anchor="end" fill="#111" transform="rotate(-90 461.04 216.50)">G7</text><text x="467.41" y="206.80" font-size="7.8" text-anchor="end" fill="#111" transform="rotate(-90 467.41 206.80)">G5</text><text x="473.78" y="215.00" font-size="7.8" text-anchor="end" fill="#111" transform="rotate(-90 473.78 215.00)">G1</text><text x="480.15" y="215.00" font-size="7.8" text-anchor="end" fill="#111" transform="rotate(-90 480.15 215.00)">G3</text><text x="7.70" y="349.40" font-size="12" text-anchor="start" font-weight="bold" fill="#111">D</text><text x="24.50" y="412.00" font-size="8.6" text-anchor="middle" fill="#111" transform="rotate(-90 24.50 412.00)">Raw signal intensity</text><circle cx="55.05" cy="394.00" r="1.95" fill="#dfe4ee" stroke="#263a60" stroke-width="1.45"/><circle cx="55.05" cy="396.00" r="1.95" fill="#dfe4ee" stroke="#263a60" stroke-width="1.45"/><circle cx="55.05" cy="398.00" r="1.95" fill="#dfe4ee" stroke="#263a60" stroke-width="1.45"/><circle cx="55.05" cy="399.50" r="1.95" fill="#dfe4ee" stroke="#263a60" stroke-width="1.45"/><circle cx="55.05" cy="401.00" r="1.95" fill="#dfe4ee" stroke="#263a60" stroke-width="1.45"/><circle cx="55.05" cy="403.00" r="1.95" fill="#dfe4ee" stroke="#263a60" stroke-width="1.45"/><circle cx="55.05" cy="404.50" r="1.95" fill="#dfe4ee" stroke="#263a60" stroke-width="1.45"/><circle cx="55.05" cy="405.50" r="1.95" fill="#dfe4ee" stroke="#263a60" stroke-width="1.45"/><rect x="61.60" y="386.65" width="3.70" height="3.70" fill="#fff" stroke="#a01a3c" stroke-width="1.5"/><rect x="61.60" y="389.15" width="3.70" height="3.70" fill="#fff" stroke="#a01a3c" stroke-width="1.5"/><rect x="61.60" y="391.65" width="3.70" height="3.70" fill="#fff" stroke="#a01a3c" stroke-width="1.5"/><rect x="61.60" y="393.65" width="3.70" height="3.70" fill="#fff" stroke="#a01a3c" stroke-width="1.5"/><rect x="61.60" y="395.65" width="3.70" height="3.70" fill="#fff" stroke="#a01a3c" stroke-width="1.5"/><rect x="61.60" y="397.65" width="3.70" height="3.70" fill="#fff" stroke="#a01a3c" stroke-width="1.5"/><rect x="61.60" y="399.15" width="3.70" height="3.70" fill="#fff" stroke="#a01a3c" stroke-width="1.5"/><rect x="61.60" y="400.15" width="3.70" height="3.70" fill="#fff" stroke="#a01a3c" stroke-width="1.5"/><line x1="55.05" y1="394.00" x2="63.45" y2="388.50" stroke="#000" stroke-width="1.05"/><line x1="55.05" y1="396.00" x2="63.45" y2="391.00" stroke="#000" stroke-width="1.05"/><line x1="55.05" y1="398.00" x2="63.45" y2="393.50" stroke="#000" stroke-width="1.05"/><line x1="55.05" y1="399.50" x2="63.45" y2="395.50" stroke="#000" stroke-width="1.05"/><line x1="55.05" y1="401.00" x2="63.45" y2="397.50" stroke="#000" stroke-width="1.05"/><line x1="55.05" y1="403.00" x2="63.45" y2="399.50" stroke="#000" stroke-width="1.05"/><line x1="55.05" y1="404.50" x2="63.45" y2="401.00" stroke="#000" stroke-width="1.05"/><line x1="55.05" y1="405.50" x2="63.45" y2="402.00" stroke="#000" stroke-width="1.05"/><line x1="53.75" y1="382.70" x2="65.25" y2="382.70" stroke="#111" stroke-width="1.3"/><circle cx="59.55" cy="379.10" r="1.15" fill="#111"/><circle cx="77.05" cy="426.00" r="1.95" fill="#dfe4ee" stroke="#263a60" stroke-width="1.45"/><circle cx="77.05" cy="428.50" r="1.95" fill="#dfe4ee" stroke="#263a60" stroke-width="1.45"/><circle cx="77.05" cy="430.00" r="1.95" fill="#dfe4ee" stroke="#263a60" stroke-width="1.45"/><circle cx="77.05" cy="431.50" r="1.95" fill="#dfe4ee" stroke="#263a60" stroke-width="1.45"/><circle cx="77.05" cy="432.50" r="1.95" fill="#dfe4ee" stroke="#263a60" stroke-width="1.45"/><circle cx="77.05" cy="433.50" r="1.95" fill="#dfe4ee" stroke="#263a60" stroke-width="1.45"/><circle cx="77.05" cy="434.50" r="1.95" fill="#dfe4ee" stroke="#263a60" stroke-width="1.45"/><circle cx="77.05" cy="435.50" r="1.95" fill="#dfe4ee" stroke="#263a60" stroke-width="1.45"/><rect x="83.60" y="407.15" width="3.70" height="3.70" fill="#fff" stroke="#a01a3c" stroke-width="1.5"/><rect x="83.60" y="410.15" width="3.70" height="3.70" fill="#fff" stroke="#a01a3c" stroke-width="1.5"/><rect x="83.60" y="412.65" width="3.70" height="3.70" fill="#fff" stroke="#a01a3c" stroke-width="1.5"/><rect x="83.60" y="415.15" width="3.70" height="3.70" fill="#fff" stroke="#a01a3c" stroke-width="1.5"/><rect x="83.60" y="417.15" width="3.70" height="3.70" fill="#fff" stroke="#a01a3c" stroke-width="1.5"/><rect x="83.60" y="419.15" width="3.70" height="3.70" fill="#fff" stroke="#a01a3c" stroke-width="1.5"/><rect x="83.60" y="420.65" width="3.70" height="3.70" fill="#fff" stroke="#a01a3c" stroke-width="1.5"/><rect x="83.60" y="428.15" width="3.70" height="3.70" fill="#fff" stroke="#a01a3c" stroke-width="1.5"/><line x1="77.05" y1="426.00" x2="85.45" y2="409.00" stroke="#000" stroke-width="1.05"/><line x1="77.05" y1="428.50" x2="85.45" y2="412.00" stroke="#000" stroke-width="1.05"/><line x1="77.05" y1="430.00" x2="85.45" y2="414.50" stroke="#000" stroke-width="1.05"/><line x1="77.05" y1="431.50" x2="85.45" y2="417.00" stroke="#000" stroke-width="1.05"/><line x1="77.05" y1="432.50" x2="85.45" y2="419.00" stroke="#000" stroke-width="1.05"/><line x1="77.05" y1="433.50" x2="85.45" y2="421.00" stroke="#000" stroke-width="1.05"/><line x1="77.05" y1="434.50" x2="85.45" y2="422.50" stroke="#000" stroke-width="1.05"/><line x1="77.05" y1="435.50" x2="85.45" y2="430.00" stroke="#000" stroke-width="1.05"/><line x1="75.75" y1="402.50" x2="87.25" y2="402.50" stroke="#111" stroke-width="1.3"/><circle cx="79.55" cy="398.90" r="1.15" fill="#111"/><circle cx="83.55" cy="398.90" r="1.15" fill="#111"/><circle cx="99.05" cy="408.50" r="1.95" fill="#dfe4ee" stroke="#263a60" stroke-width="1.45"/><circle cx="99.05" cy="415.00" r="1.95" fill="#dfe4ee" stroke="#263a60" stroke-width="1.45"/><circle cx="99.05" cy="417.00" r="1.95" fill="#dfe4ee" stroke="#263a60" stroke-width="1.45"/><circle cx="99.05" cy="419.00" r="1.95" fill="#dfe4ee" stroke="#263a60" stroke-width="1.45"/><circle cx="99.05" cy="421.00" r="1.95" fill="#dfe4ee" stroke="#263a60" stroke-width="1.45"/><circle cx="99.05" cy="422.50" r="1.95" fill="#dfe4ee" stroke="#263a60" stroke-width="1.45"/><circle cx="99.05" cy="424.00" r="1.95" fill="#dfe4ee" stroke="#263a60" stroke-width="1.45"/><circle cx="99.05" cy="426.00" r="1.95" fill="#dfe4ee" stroke="#263a60" stroke-width="1.45"/><rect x="105.60" y="393.15" width="3.70" height="3.70" fill="#fff" stroke="#a01a3c" stroke-width="1.5"/><rect x="105.60" y="397.15" width="3.70" height="3.70" fill="#fff" stroke="#a01a3c" stroke-width="1.5"/><rect x="105.60" y="400.65" width="3.70" height="3.70" fill="#fff" stroke="#a01a3c" stroke-width="1.5"/><rect x="105.60" y="403.65" width="3.70" height="3.70" fill="#fff" stroke="#a01a3c" stroke-width="1.5"/><rect x="105.60" y="407.15" width="3.70" height="3.70" fill="#fff" stroke="#a01a3c" stroke-width="1.5"/><rect x="105.60" y="410.15" width="3.70" height="3.70" fill="#fff" stroke="#a01a3c" stroke-width="1.5"/><rect x="105.60" y="413.15" width="3.70" height="3.70" fill="#fff" stroke="#a01a3c" stroke-width="1.5"/><rect x="105.60" y="416.15" width="3.70" height="3.70" fill="#fff" stroke="#a01a3c" stroke-width="1.5"/><line x1="99.05" y1="408.50" x2="107.45" y2="395.00" stroke="#000" stroke-width="1.05"/><line x1="99.05" y1="415.00" x2="107.45" y2="399.00" stroke="#000" stroke-width="1.05"/><line x1="99.05" y1="417.00" x2="107.45" y2="402.50" stroke="#000" stroke-width="1.05"/><line x1="99.05" y1="419.00" x2="107.45" y2="405.50" stroke="#000" stroke-width="1.05"/><line x1="99.05" y1="421.00" x2="107.45" y2="409.00" stroke="#000" stroke-width="1.05"/><line x1="99.05" y1="422.50" x2="107.45" y2="412.00" stroke="#000" stroke-width="1.05"/><line x1="99.05" y1="424.00" x2="107.45" y2="415.00" stroke="#000" stroke-width="1.05"/><line x1="99.05" y1="426.00" x2="107.45" y2="418.00" stroke="#000" stroke-width="1.05"/><line x1="97.75" y1="389.30" x2="109.25" y2="389.30" stroke="#111" stroke-width="1.3"/><circle cx="101.55" cy="385.70" r="1.15" fill="#111"/><circle cx="105.55" cy="385.70" r="1.15" fill="#111"/><circle cx="121.05" cy="421.60" r="1.95" fill="#dfe4ee" stroke="#263a60" stroke-width="1.45"/><circle cx="121.05" cy="429.60" r="1.95" fill="#dfe4ee" stroke="#263a60" stroke-width="1.45"/><circle cx="121.05" cy="433.00" r="1.95" fill="#dfe4ee" stroke="#263a60" stroke-width="1.45"/><circle cx="121.05" cy="435.90" r="1.95" fill="#dfe4ee" stroke="#263a60" stroke-width="1.45"/><circle cx="121.05" cy="437.50" r="1.95" fill="#dfe4ee" stroke="#263a60" stroke-width="1.45"/><circle cx="121.05" cy="438.70" r="1.95" fill="#dfe4ee" stroke="#263a60" stroke-width="1.45"/><circle cx="121.05" cy="440.50" r="1.95" fill="#dfe4ee" stroke="#263a60" stroke-width="1.45"/><circle cx="121.05" cy="442.20" r="1.95" fill="#dfe4ee" stroke="#263a60" stroke-width="1.45"/><rect x="127.60" y="391.15" width="3.70" height="3.70" fill="#fff" stroke="#a01a3c" stroke-width="1.5"/><rect x="127.60" y="395.15" width="3.70" height="3.70" fill="#fff" stroke="#a01a3c" stroke-width="1.5"/><rect x="127.60" y="399.15" width="3.70" height="3.70" fill="#fff" stroke="#a01a3c" stroke-width="1.5"/><rect x="127.60" y="403.15" width="3.70" height="3.70" fill="#fff" stroke="#a01a3c" stroke-width="1.5"/><rect x="127.60" y="407.45" width="3.70" height="3.70" fill="#fff" stroke="#a01a3c" stroke-width="1.5"/><rect x="127.60" y="410.15" width="3.70" height="3.70" fill="#fff" stroke="#a01a3c" stroke-width="1.5"/><rect x="127.60" y="412.15" width="3.70" height="3.70" fill="#fff" stroke="#a01a3c" stroke-width="1.5"/><rect x="127.60" y="422.85" width="3.70" height="3.70" fill="#fff" stroke="#a01a3c" stroke-width="1.5"/><line x1="121.05" y1="421.60" x2="129.45" y2="393.00" stroke="#000" stroke-width="1.05"/><line x1="121.05" y1="429.60" x2="129.45" y2="397.00" stroke="#000" stroke-width="1.05"/><line x1="121.05" y1="433.00" x2="129.45" y2="401.00" stroke="#000" stroke-width="1.05"/><line x1="121.05" y1="435.90" x2="129.45" y2="405.00" stroke="#000" stroke-width="1.05"/><line x1="121.05" y1="437.50" x2="129.45" y2="409.30" stroke="#000" stroke-width="1.05"/><line x1="121.05" y1="438.70" x2="129.45" y2="412.00" stroke="#000" stroke-width="1.05"/><line x1="121.05" y1="440.50" x2="129.45" y2="414.00" stroke="#000" stroke-width="1.05"/><line x1="121.05" y1="442.20" x2="129.45" y2="424.70" stroke="#000" stroke-width="1.05"/><line x1="119.75" y1="389.30" x2="131.25" y2="389.30" stroke="#111" stroke-width="1.3"/><circle cx="125.55" cy="385.70" r="1.15" fill="#111"/><circle cx="143.05" cy="421.60" r="1.95" fill="#dfe4ee" stroke="#263a60" stroke-width="1.45"/><circle cx="143.05" cy="424.00" r="1.95" fill="#dfe4ee" stroke="#263a60" stroke-width="1.45"/><circle cx="143.05" cy="428.20" r="1.95" fill="#dfe4ee" stroke="#263a60" stroke-width="1.45"/><circle cx="143.05" cy="430.50" r="1.95" fill="#dfe4ee" stroke="#263a60" stroke-width="1.45"/><circle cx="143.05" cy="433.00" r="1.95" fill="#dfe4ee" stroke="#263a60" stroke-width="1.45"/><circle cx="143.05" cy="435.00" r="1.95" fill="#dfe4ee" stroke="#263a60" stroke-width="1.45"/><circle cx="143.05" cy="436.60" r="1.95" fill="#dfe4ee" stroke="#263a60" stroke-width="1.45"/><circle cx="143.05" cy="438.70" r="1.95" fill="#dfe4ee" stroke="#263a60" stroke-width="1.45"/><rect x="149.60" y="395.15" width="3.70" height="3.70" fill="#fff" stroke="#a01a3c" stroke-width="1.5"/><rect x="149.60" y="399.15" width="3.70" height="3.70" fill="#fff" stroke="#a01a3c" stroke-width="1.5"/><rect x="149.60" y="403.25" width="3.70" height="3.70" fill="#fff" stroke="#a01a3c" stroke-width="1.5"/><rect x="149.60" y="405.15" width="3.70" height="3.70" fill="#fff" stroke="#a01a3c" stroke-width="1.5"/><rect x="149.60" y="407.45" width="3.70" height="3.70" fill="#fff" stroke="#a01a3c" stroke-width="1.5"/><rect x="149.60" y="410.15" width="3.70" height="3.70" fill="#fff" stroke="#a01a3c" stroke-width="1.5"/><rect x="149.60" y="412.35" width="3.70" height="3.70" fill="#fff" stroke="#a01a3c" stroke-width="1.5"/><rect x="149.60" y="423.15" width="3.70" height="3.70" fill="#fff" stroke="#a01a3c" stroke-width="1.5"/><line x1="143.05" y1="421.60" x2="151.45" y2="397.00" stroke="#000" stroke-width="1.05"/><line x1="143.05" y1="424.00" x2="151.45" y2="401.00" stroke="#000" stroke-width="1.05"/><line x1="143.05" y1="428.20" x2="151.45" y2="405.10" stroke="#000" stroke-width="1.05"/><line x1="143.05" y1="430.50" x2="151.45" y2="407.00" stroke="#000" stroke-width="1.05"/><line x1="143.05" y1="433.00" x2="151.45" y2="409.30" stroke="#000" stroke-width="1.05"/><line x1="143.05" y1="435.00" x2="151.45" y2="412.00" stroke="#000" stroke-width="1.05"/><line x1="143.05" y1="436.60" x2="151.45" y2="414.20" stroke="#000" stroke-width="1.05"/><line x1="143.05" y1="438.70" x2="151.45" y2="425.00" stroke="#000" stroke-width="1.05"/><line x1="141.75" y1="391.30" x2="153.25" y2="391.30" stroke="#111" stroke-width="1.3"/><circle cx="145.55" cy="387.70" r="1.15" fill="#111"/><circle cx="149.55" cy="387.70" r="1.15" fill="#111"/><line x1="49.25" y1="372.50" x2="49.25" y2="453.80" stroke="#111" stroke-width="1.3"/><line x1="46.05" y1="453.20" x2="49.25" y2="453.20" stroke="#000" stroke-width="1.3"/><text x="43.20" y="457.60" font-size="7.5" text-anchor="end" fill="#111">10<tspan font-size="5.25" dy="-2.6">2</tspan></text><line x1="46.05" y1="427.10" x2="49.25" y2="427.10" stroke="#000" stroke-width="1.3"/><text x="43.20" y="431.50" font-size="7.5" text-anchor="end" fill="#111">10<tspan font-size="5.25" dy="-2.6">3</tspan></text><line x1="46.05" y1="401.00" x2="49.25" y2="401.00" stroke="#000" stroke-width="1.3"/><text x="43.20" y="405.40" font-size="7.5" text-anchor="end" fill="#111">10<tspan font-size="5.25" dy="-2.6">4</tspan></text><line x1="46.05" y1="374.90" x2="49.25" y2="374.90" stroke="#000" stroke-width="1.3"/><text x="43.20" y="379.30" font-size="7.5" text-anchor="end" fill="#111">10<tspan font-size="5.25" dy="-2.6">5</tspan></text><line x1="46.50" y1="453.20" x2="157.50" y2="453.20" stroke="#111" stroke-width="1.3"/><line x1="59.25" y1="453.20" x2="59.25" y2="456.20" stroke="#111" stroke-width="1.1"/><line x1="81.25" y1="453.20" x2="81.25" y2="456.20" stroke="#111" stroke-width="1.1"/><line x1="103.25" y1="453.20" x2="103.25" y2="456.20" stroke="#111" stroke-width="1.1"/><line x1="125.25" y1="453.20" x2="125.25" y2="456.20" stroke="#111" stroke-width="1.1"/><line x1="147.25" y1="453.20" x2="147.25" y2="456.20" stroke="#111" stroke-width="1.1"/><line x1="49.50" y1="437.00" x2="157.50" y2="437.00" stroke="#000" stroke-width="1.5" stroke-dasharray="2.6 2.0"/><text x="64.25" y="461.70" font-size="8.2" text-anchor="end" fill="#111" transform="rotate(-45 64.25 461.70)">E2-2</text><text x="86.25" y="461.70" font-size="8.2" text-anchor="end" fill="#111" transform="rotate(-45 86.25 461.70)">Spi-B</text><text x="108.25" y="461.70" font-size="8.2" text-anchor="end" fill="#111" transform="rotate(-45 108.25 461.70)">IRF7</text><text x="130.25" y="461.70" font-size="8.2" text-anchor="end" fill="#111" transform="rotate(-45 130.25 461.70)">CD303</text><text x="152.25" y="461.70" font-size="8.2" text-anchor="end" fill="#111" transform="rotate(-45 152.25 461.70)">ILT7</text><line x1="75.50" y1="359.50" x2="91.30" y2="359.50" stroke="#000" stroke-width="1.2"/><circle cx="83.40" cy="359.50" r="1.95" fill="#fff" stroke="#263a60" stroke-width="1.45"/><text x="93.80" y="362.30" font-size="7.6" text-anchor="start" font-weight="normal" fill="#111">G-CSF (n=8)</text><line x1="75.50" y1="370.50" x2="91.30" y2="370.50" stroke="#000" stroke-width="1.2"/><rect x="81.55" y="368.65" width="3.70" height="3.70" fill="#fff" stroke="#a0193c" stroke-width="1.5"/><text x="93.80" y="373.30" font-size="7.6" text-anchor="start" font-weight="normal" fill="#111">Plerixafor (n=8)</text><text x="174.20" y="349.40" font-size="12" text-anchor="start" font-weight="bold" fill="#111">E</text><text x="192.80" y="411.50" font-size="8.6" text-anchor="middle" fill="#111" transform="rotate(-90 192.80 411.50)">Raw signal intensity</text><circle cx="223.60" cy="386.60" r="1.95" fill="#fff" stroke="#2f5288" stroke-width="1.45"/><circle cx="223.60" cy="388.20" r="1.95" fill="#fff" stroke="#2f5288" stroke-width="1.45"/><circle cx="223.60" cy="389.60" r="1.95" fill="#fff" stroke="#2f5288" stroke-width="1.45"/><circle cx="223.60" cy="392.40" r="1.95" fill="#fff" stroke="#2f5288" stroke-width="1.45"/><rect x="230.15" y="375.35" width="3.70" height="3.70" fill="#fff" stroke="#a0193c" stroke-width="1.5"/><rect x="230.15" y="378.35" width="3.70" height="3.70" fill="#fff" stroke="#a0193c" stroke-width="1.5"/><rect x="230.15" y="381.55" width="3.70" height="3.70" fill="#fff" stroke="#a0193c" stroke-width="1.5"/><rect x="230.15" y="383.75" width="3.70" height="3.70" fill="#fff" stroke="#a0193c" stroke-width="1.5"/><line x1="222.40" y1="371.30" x2="233.20" y2="371.30" stroke="#111" stroke-width="1.3"/><circle cx="227.20" cy="367.70" r="1.15" fill="#111"/><circle cx="245.60" cy="419.60" r="1.95" fill="#fff" stroke="#2f5288" stroke-width="1.45"/><circle cx="245.60" cy="421.20" r="1.95" fill="#fff" stroke="#2f5288" stroke-width="1.45"/><circle cx="245.60" cy="422.60" r="1.95" fill="#fff" stroke="#2f5288" stroke-width="1.45"/><circle cx="245.60" cy="425.60" r="1.95" fill="#fff" stroke="#2f5288" stroke-width="1.45"/><rect x="252.15" y="395.75" width="3.70" height="3.70" fill="#fff" stroke="#a0193c" stroke-width="1.5"/><rect x="252.15" y="397.75" width="3.70" height="3.70" fill="#fff" stroke="#a0193c" stroke-width="1.5"/><rect x="252.15" y="400.55" width="3.70" height="3.70" fill="#fff" stroke="#a0193c" stroke-width="1.5"/><line x1="244.40" y1="391.80" x2="255.20" y2="391.80" stroke="#111" stroke-width="1.3"/><circle cx="245.20" cy="388.20" r="1.15" fill="#111"/><circle cx="249.20" cy="388.20" r="1.15" fill="#111"/><circle cx="253.20" cy="388.20" r="1.15" fill="#111"/><circle cx="267.60" cy="399.70" r="1.95" fill="#fff" stroke="#2f5288" stroke-width="1.45"/><circle cx="267.60" cy="403.60" r="1.95" fill="#fff" stroke="#2f5288" stroke-width="1.45"/><circle cx="267.60" cy="407.60" r="1.95" fill="#fff" stroke="#2f5288" stroke-width="1.45"/><circle cx="267.60" cy="411.30" r="1.95" fill="#fff" stroke="#2f5288" stroke-width="1.45"/><rect x="274.15" y="378.35" width="3.70" height="3.70" fill="#fff" stroke="#a0193c" stroke-width="1.5"/><rect x="274.15" y="384.05" width="3.70" height="3.70" fill="#fff" stroke="#a0193c" stroke-width="1.5"/><rect x="274.15" y="390.05" width="3.70" height="3.70" fill="#fff" stroke="#a0193c" stroke-width="1.5"/><line x1="266.40" y1="375.50" x2="277.20" y2="375.50" stroke="#111" stroke-width="1.3"/><circle cx="271.20" cy="371.90" r="1.15" fill="#111"/><circle cx="289.60" cy="414.00" r="1.95" fill="#fff" stroke="#2f5288" stroke-width="1.45"/><circle cx="289.60" cy="422.50" r="1.95" fill="#fff" stroke="#2f5288" stroke-width="1.45"/><circle cx="289.60" cy="427.80" r="1.95" fill="#fff" stroke="#2f5288" stroke-width="1.45"/><circle cx="289.60" cy="433.00" r="1.95" fill="#fff" stroke="#2f5288" stroke-width="1.45"/><rect x="296.15" y="385.55" width="3.70" height="3.70" fill="#fff" stroke="#a0193c" stroke-width="1.5"/><rect x="296.15" y="388.55" width="3.70" height="3.70" fill="#fff" stroke="#a0193c" stroke-width="1.5"/><rect x="296.15" y="391.55" width="3.70" height="3.70" fill="#fff" stroke="#a0193c" stroke-width="1.5"/><rect x="296.15" y="394.85" width="3.70" height="3.70" fill="#fff" stroke="#a0193c" stroke-width="1.5"/><line x1="288.40" y1="383.20" x2="299.20" y2="383.20" stroke="#111" stroke-width="1.3"/><circle cx="291.20" cy="379.60" r="1.15" fill="#111"/><circle cx="295.20" cy="379.60" r="1.15" fill="#111"/><circle cx="311.60" cy="415.80" r="1.95" fill="#fff" stroke="#2f5288" stroke-width="1.45"/><circle cx="311.60" cy="418.20" r="1.95" fill="#fff" stroke="#2f5288" stroke-width="1.45"/><circle cx="311.60" cy="420.30" r="1.95" fill="#fff" stroke="#2f5288" stroke-width="1.45"/><circle cx="311.60" cy="428.50" r="1.95" fill="#fff" stroke="#2f5288" stroke-width="1.45"/><rect x="318.15" y="387.85" width="3.70" height="3.70" fill="#fff" stroke="#a0193c" stroke-width="1.5"/><rect x="318.15" y="392.25" width="3.70" height="3.70" fill="#fff" stroke="#a0193c" stroke-width="1.5"/><rect x="318.15" y="396.05" width="3.70" height="3.70" fill="#fff" stroke="#a0193c" stroke-width="1.5"/><rect x="318.15" y="399.75" width="3.70" height="3.70" fill="#fff" stroke="#a0193c" stroke-width="1.5"/><line x1="310.40" y1="384.40" x2="321.20" y2="384.40" stroke="#111" stroke-width="1.3"/><circle cx="313.20" cy="380.80" r="1.15" fill="#111"/><circle cx="317.20" cy="380.80" r="1.15" fill="#111"/><line x1="217.50" y1="372.50" x2="217.50" y2="453.60" stroke="#111" stroke-width="1.3"/><line x1="214.30" y1="453.00" x2="217.50" y2="453.00" stroke="#000" stroke-width="1.3"/><text x="211.40" y="457.40" font-size="7.5" text-anchor="end" fill="#111">10<tspan font-size="5.25" dy="-2.6">1</tspan></text><line x1="214.30" y1="427.00" x2="217.50" y2="427.00" stroke="#000" stroke-width="1.3"/><text x="211.40" y="431.40" font-size="7.5" text-anchor="end" fill="#111">10<tspan font-size="5.25" dy="-2.6">2</tspan></text><line x1="214.30" y1="401.00" x2="217.50" y2="401.00" stroke="#000" stroke-width="1.3"/><text x="211.40" y="405.40" font-size="7.5" text-anchor="end" fill="#111">10<tspan font-size="5.25" dy="-2.6">3</tspan></text><line x1="214.30" y1="375.00" x2="217.50" y2="375.00" stroke="#000" stroke-width="1.3"/><text x="211.40" y="379.40" font-size="7.5" text-anchor="end" fill="#111">10<tspan font-size="5.25" dy="-2.6">4</tspan></text><line x1="215.00" y1="453.00" x2="325.50" y2="453.00" stroke="#111" stroke-width="1.3"/><line x1="228.00" y1="453.00" x2="228.00" y2="456.00" stroke="#111" stroke-width="1.1"/><line x1="250.00" y1="453.00" x2="250.00" y2="456.00" stroke="#111" stroke-width="1.1"/><line x1="272.00" y1="453.00" x2="272.00" y2="456.00" stroke="#111" stroke-width="1.1"/><line x1="294.00" y1="453.00" x2="294.00" y2="456.00" stroke="#111" stroke-width="1.1"/><line x1="316.00" y1="453.00" x2="316.00" y2="456.00" stroke="#111" stroke-width="1.1"/><line x1="218.00" y1="411.25" x2="326.00" y2="411.25" stroke="#000" stroke-width="1.5" stroke-dasharray="2.6 2.0"/><text x="233.00" y="461.50" font-size="8.2" text-anchor="end" fill="#111" transform="rotate(-45 233.00 461.50)">E2-2</text><text x="255.00" y="461.50" font-size="8.2" text-anchor="end" fill="#111" transform="rotate(-45 255.00 461.50)">Spi-B</text><text x="277.00" y="461.50" font-size="8.2" text-anchor="end" fill="#111" transform="rotate(-45 277.00 461.50)">IRF7</text><text x="299.00" y="461.50" font-size="8.2" text-anchor="end" fill="#111" transform="rotate(-45 299.00 461.50)">CD303</text><text x="321.00" y="461.50" font-size="8.2" text-anchor="end" fill="#111" transform="rotate(-45 321.00 461.50)">ILT7</text><circle cx="247.50" cy="350.00" r="1.95" fill="#fff" stroke="#2f5288" stroke-width="1.45"/><text x="252.00" y="352.80" font-size="7.6" text-anchor="start" font-weight="normal" fill="#111">G-CSF (n=4)</text><rect x="245.65" y="359.90" width="3.70" height="3.70" fill="#fff" stroke="#a0193c" stroke-width="1.5"/><text x="252.00" y="364.50" font-size="7.6" text-anchor="start" font-weight="normal" fill="#111">Plerixafor (n=4)</text><text x="348.60" y="259.40" font-size="12" text-anchor="start" font-weight="bold" fill="#111">F</text><ellipse cx="372.00" cy="271.40" rx="4.6" ry="2.8" fill="url(#g_red)"/><text x="379.60" y="274.20" font-size="8.0" text-anchor="start" font-weight="normal" fill="#111">BM</text><ellipse cx="400.00" cy="271.40" rx="4.6" ry="2.8" fill="url(#g_org)"/><text x="408.00" y="274.20" font-size="8.0" text-anchor="start" font-weight="normal" fill="#111">Plerixafor</text><ellipse cx="449.00" cy="271.40" rx="4.6" ry="2.8" fill="url(#g_blu)"/><text x="456.00" y="274.20" font-size="8.0" text-anchor="start" font-weight="normal" fill="#111">G-CSF</text><path d="M352.00 279.60L352.00 337.40M362.40 279.45L362.40 337.04M372.80 279.30L372.80 336.68M383.20 279.15L383.20 336.32M393.60 279.00L393.60 335.96M404.00 278.85L404.00 335.60M414.40 278.70L414.40 335.24M424.80 278.55L424.80 334.88M435.20 278.40L435.20 334.52M445.60 278.25L445.60 334.16M456.00 278.10L456.00 333.80M352.00 279.60L456.00 278.10M352.00 285.38L456.00 283.67M352.00 291.16L456.00 289.24M352.00 296.94L456.00 294.81M352.00 302.72L456.00 300.38M352.00 308.50L456.00 305.95M352.00 314.28L456.00 311.52M352.00 320.06L456.00 317.09M352.00 325.84L456.00 322.66M352.00 331.62L456.00 328.23M352.00 337.40L456.00 333.80" stroke="#a4a4a4" stroke-width="0.55" fill="none"/><path d="M456.00 278.10L456.00 333.80M460.73 278.48L460.73 334.62M465.47 278.85L465.47 335.45M470.20 279.23L470.20 336.28M474.93 279.60L474.93 337.10M479.67 279.98L479.67 337.92M484.40 280.35L484.40 338.75M489.13 280.73L489.13 339.57M493.87 281.10L493.87 340.40M498.60 281.48L498.60 341.22M503.33 281.85L503.33 342.05M508.07 282.23L508.07 342.88M512.80 282.60L512.80 343.70M456.00 278.10L512.80 282.60M456.00 283.16L512.80 288.15M456.00 288.23L512.80 293.71M456.00 293.29L512.80 299.26M456.00 298.35L512.80 304.82M456.00 303.42L512.80 310.37M456.00 308.48L512.80 315.93M456.00 313.55L512.80 321.48M456.00 318.61L512.80 327.04M456.00 323.67L512.80 332.59M456.00 328.74L512.80 338.15M456.00 333.80L512.80 343.70" stroke="#a4a4a4" stroke-width="0.55" fill="none"/><path d="M456.00 333.80L352.00 337.40M460.73 334.62L355.58 338.82M465.47 335.45L359.17 340.25M470.20 336.28L362.75 341.67M474.93 337.10L366.33 343.10M479.67 337.92L369.92 344.52M484.40 338.75L373.50 345.95M489.13 339.57L377.08 347.38M493.87 340.40L380.67 348.80M498.60 341.22L384.25 350.23M503.33 342.05L387.83 351.65M508.07 342.88L391.42 353.07M512.80 343.70L395.00 354.50M456.00 333.80L512.80 343.70M445.60 334.16L501.02 344.78M435.20 334.52L489.24 345.86M424.80 334.88L477.46 346.94M414.40 335.24L465.68 348.02M404.00 335.60L453.90 349.10M393.60 335.96L442.12 350.18M383.20 336.32L430.34 351.26M372.80 336.68L418.56 352.34M362.40 337.04L406.78 353.42M352.00 337.40L395.00 354.50" stroke="#a4a4a4" stroke-width="0.55" fill="none"/><ellipse cx="365.40" cy="297.70" rx="4.1" ry="2.1" fill="url(#g_red)"/><ellipse cx="395.00" cy="288.60" rx="4.1" ry="2.1" fill="url(#g_pnk)"/><ellipse cx="445.00" cy="294.00" rx="4.1" ry="2.1" fill="url(#g_red)"/><ellipse cx="444.00" cy="304.00" rx="4.1" ry="2.1" fill="url(#g_red)"/><ellipse cx="386.60" cy="306.90" rx="4.1" ry="2.1" fill="url(#g_org)"/><ellipse cx="420.60" cy="313.00" rx="4.1" ry="2.1" fill="url(#g_org)"/><ellipse cx="447.60" cy="321.00" rx="4.1" ry="2.1" fill="url(#g_org)"/><ellipse cx="422.00" cy="327.70" rx="4.1" ry="2.1" fill="url(#g_org)"/><ellipse cx="425.00" cy="336.80" rx="4.1" ry="2.1" fill="url(#g_org)"/><ellipse cx="441.40" cy="333.20" rx="4.1" ry="2.1" fill="url(#g_org)"/><ellipse cx="447.00" cy="334.30" rx="4.1" ry="2.1" fill="url(#g_org)"/><ellipse cx="436.70" cy="341.20" rx="4.1" ry="2.1" fill="url(#g_org)"/><ellipse cx="480.50" cy="326.20" rx="4.1" ry="2.1" fill="url(#g_org)"/><ellipse cx="474.30" cy="283.10" rx="4.1" ry="2.1" fill="url(#g_org)"/><ellipse cx="470.70" cy="281.30" rx="4.1" ry="2.1" fill="url(#g_blu)"/><ellipse cx="430.50" cy="305.00" rx="4.1" ry="2.1" fill="url(#g_blu)"/><ellipse cx="437.80" cy="305.00" rx="4.1" ry="2.1" fill="url(#g_blu)"/><ellipse cx="432.30" cy="309.40" rx="4.1" ry="2.1" fill="url(#g_blu)"/><ellipse cx="447.60" cy="301.40" rx="4.1" ry="2.1" fill="url(#g_blu)"/><text x="342.40" y="382.40" font-size="12" text-anchor="start" font-weight="bold" fill="#111">G</text><ellipse cx="382.00" cy="391.40" rx="4.6" ry="2.8" fill="url(#g_red)"/><text x="390" y="394.2" font-size="7.6" fill="#111">CD34<tspan font-size="5.4" dy="-2.8">+</tspan><tspan dy="2.8">CD45RA</tspan><tspan font-size="5.4" dy="-2.8">-</tspan><tspan dy="2.8">HSPCs</tspan></text><ellipse cx="382.00" cy="402.00" rx="4.6" ry="2.8" fill="url(#g_org)"/><text x="390" y="404.8" font-size="7.6" fill="#111">CD34<tspan font-size="5.4" dy="-2.8">dim</tspan><tspan dy="2.8">CD45RA</tspan><tspan font-size="5.4" dy="-2.8">+</tspan><tspan dy="2.8">CD123</tspan><tspan font-size="5.4" dy="-2.8">++</tspan><tspan dy="2.8"> pro-DC2</tspan></text><ellipse cx="382.00" cy="412.40" rx="4.6" ry="2.8" fill="url(#g_blu)"/><text x="390" y="415.2" font-size="7.6" fill="#111">CD303<tspan font-size="5.4" dy="-2.8">+</tspan><tspan dy="2.8"> pDCs</tspan></text><path d="M394.00 417.80L394.00 475.70M404.66 417.77L404.66 476.00M415.31 417.74L415.31 476.30M425.97 417.71L425.97 476.60M436.63 417.69L436.63 476.90M447.29 417.66L447.29 477.20M457.94 417.63L457.94 477.50M468.60 417.60L468.60 477.80M394.00 417.80L468.60 417.60M394.00 427.45L468.60 427.63M394.00 437.10L468.60 437.67M394.00 446.75L468.60 447.70M394.00 456.40L468.60 457.73M394.00 466.05L468.60 467.77M394.00 475.70L468.60 477.80" stroke="#a4a4a4" stroke-width="0.55" fill="none"/><path d="M468.60 417.60L468.60 477.80M471.57 417.74L471.57 477.94M474.53 417.88L474.53 478.08M477.50 418.03L477.50 478.23M480.47 418.17L480.47 478.37M483.43 418.31L483.43 478.51M486.40 418.45L486.40 478.65M489.37 418.59L489.37 478.79M492.33 418.73L492.33 478.93M495.30 418.88L495.30 479.07M498.27 419.02L498.27 479.22M501.23 419.16L501.23 479.36M504.20 419.30L504.20 479.50M468.60 417.60L504.20 419.30M468.60 421.90L504.20 423.60M468.60 426.20L504.20 427.90M468.60 430.50L504.20 432.20M468.60 434.80L504.20 436.50M468.60 439.10L504.20 440.80M468.60 443.40L504.20 445.10M468.60 447.70L504.20 449.40M468.60 452.00L504.20 453.70M468.60 456.30L504.20 458.00M468.60 460.60L504.20 462.30M468.60 464.90L504.20 466.60M468.60 469.20L504.20 470.90M468.60 473.50L504.20 475.20M468.60 477.80L504.20 479.50" stroke="#a4a4a4" stroke-width="0.55" fill="none"/><path d="M394.00 475.70L344.30 487.50M403.18 476.02L353.36 487.96M412.37 476.33L362.42 488.42M421.55 476.65L371.48 488.88M430.73 476.97L380.53 489.33M439.92 477.28L389.59 489.79M449.10 477.60L398.65 490.25M458.28 477.92L407.71 490.71M467.47 478.23L416.77 491.17M476.65 478.55L425.82 491.62M485.83 478.87L434.88 492.08M495.02 479.18L443.94 492.54M504.20 479.50L453.00 493.00M394.00 475.70L504.20 479.50M387.79 477.18L497.80 481.19M381.57 478.65L491.40 482.88M375.36 480.12L485.00 484.56M369.15 481.60L478.60 486.25M362.94 483.07L472.20 487.94M356.73 484.55L465.80 489.62M350.51 486.02L459.40 491.31M344.30 487.50L453.00 493.00" stroke="#a4a4a4" stroke-width="0.55" fill="none"/><ellipse cx="399.40" cy="422.70" rx="4.1" ry="2.1" fill="url(#g_org)"/><ellipse cx="414.00" cy="429.00" rx="4.1" ry="2.1" fill="url(#g_org)"/><ellipse cx="389.20" cy="440.00" rx="4.1" ry="2.1" fill="url(#g_org)"/><ellipse cx="406.70" cy="460.70" rx="4.1" ry="2.1" fill="url(#g_org)"/><ellipse cx="401.20" cy="469.90" rx="4.1" ry="2.1" fill="url(#g_org)"/><ellipse cx="406.70" cy="472.80" rx="4.1" ry="2.1" fill="url(#g_org)"/><ellipse cx="406.70" cy="432.60" rx="4.1" ry="2.1" fill="url(#g_blu)"/><ellipse cx="385.50" cy="442.50" rx="4.1" ry="2.1" fill="url(#g_blu)"/><ellipse cx="407.80" cy="444.60" rx="4.1" ry="2.1" fill="url(#g_blu)"/><ellipse cx="419.50" cy="452.70" rx="4.1" ry="2.1" fill="url(#g_blu)"/><ellipse cx="392.10" cy="473.50" rx="4.1" ry="2.1" fill="url(#g_blu)"/><ellipse cx="386.60" cy="476.40" rx="4.1" ry="2.1" fill="url(#g_blu)"/><ellipse cx="464.50" cy="423.50" rx="4.1" ry="2.1" fill="url(#g_red)"/><ellipse cx="459.70" cy="433.70" rx="4.1" ry="2.1" fill="url(#g_red)"/><ellipse cx="476.10" cy="433.70" rx="4.1" ry="2.1" fill="url(#g_red)"/><ellipse cx="456.00" cy="443.60" rx="4.1" ry="2.1" fill="url(#g_pnk)"/><ellipse cx="467.00" cy="443.60" rx="4.1" ry="2.1" fill="url(#g_red)"/><ellipse cx="455.30" cy="450.90" rx="4.1" ry="2.1" fill="url(#g_pnk)"/><ellipse cx="457.90" cy="452.70" rx="4.1" ry="2.1" fill="url(#g_pnk)"/><ellipse cx="458.60" cy="467.30" rx="4.1" ry="2.1" fill="url(#g_pnk)"/><ellipse cx="454.20" cy="479.00" rx="4.1" ry="2.1" fill="url(#g_red)"/><ellipse cx="473.60" cy="486.70" rx="4.1" ry="2.1" fill="url(#g_red)"/><rect x="0.75" y="0.75" width="518.5" height="499.5" fill="none" stroke="#000" stroke-width="1.5"/></svg>
</body></html>
